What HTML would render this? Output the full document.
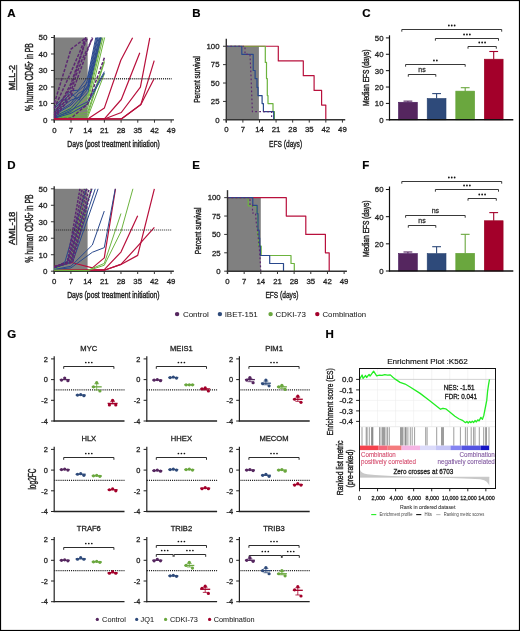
<!DOCTYPE html><html><head><meta charset="utf-8"><title>Figure</title><style>html,body{margin:0;padding:0;background:#fff;overflow:hidden;width:520px;height:631px;}svg{display:block;font-family:"Liberation Sans",sans-serif;will-change:transform;}</style></head><body>
<svg width="520" height="631" viewBox="0 0 520 631">
<rect x="0" y="0" width="520" height="631" fill="#fff" />
<rect x="0.5" y="0.5" width="519" height="630" fill="none" stroke="#000" stroke-width="1.2"/>
<text x="7.3" y="16.9" font-size="11.5" text-anchor="start" fill="#000" font-weight="bold" stroke="#000" stroke-width="0.2" >A</text>
<rect x="54.3" y="37.5" width="33.39" height="82.4" fill="#808080" />
<line x1="54.3" y1="34.9" x2="54.3" y2="122.7" stroke="#333" stroke-width="1.4" />
<line x1="53.6" y1="119.9" x2="173.97" y2="119.9" stroke="#333" stroke-width="1.4" />
<polyline points="54.3,116.6 71,107.38 87.69,95.18 100.57,37.5" fill="none" stroke="#6cb33e" stroke-width="1" stroke-linejoin="round" />
<polyline points="54.3,117.43 71,109.19 87.69,98.48 101.76,37.5" fill="none" stroke="#6cb33e" stroke-width="1" stroke-linejoin="round" />
<polyline points="54.3,118.25 71,111.66 87.69,102.6 102.95,37.5" fill="none" stroke="#6cb33e" stroke-width="1" stroke-linejoin="round" />
<polyline points="54.3,118.58 71,113.31 87.69,108.36 104.62,37.5" fill="none" stroke="#6cb33e" stroke-width="1" stroke-linejoin="round" />
<polyline points="54.3,118.91 71,114.96 87.69,112.15 104.38,60.57" fill="none" stroke="#6cb33e" stroke-width="1" stroke-linejoin="round" />
<polyline points="54.3,118.91 71,115.78 87.69,114.96 104.38,62.22" fill="none" stroke="#6cb33e" stroke-width="1" stroke-linejoin="round" />
<polyline points="54.3,118.91 71,117.1 87.69,117.1 104.38,73.76" fill="none" stroke="#6cb33e" stroke-width="1" stroke-linejoin="round" />
<polyline points="54.3,106.72 71,90.73 78.15,90.24 87.69,77.05 95.8,37.5" fill="none" stroke="#29488c" stroke-width="1" stroke-linejoin="round" />
<polyline points="54.3,108.36 71,93.53 79.34,100.12 87.69,79.52 96.75,37.5" fill="none" stroke="#29488c" stroke-width="1" stroke-linejoin="round" />
<polyline points="54.3,110.84 71,96.83 78.15,91.06 87.69,82.82 97.47,37.5" fill="none" stroke="#29488c" stroke-width="1" stroke-linejoin="round" />
<polyline points="54.3,112.48 71,100.12 80.53,96.83 87.69,85.29 98.18,37.5" fill="none" stroke="#29488c" stroke-width="1" stroke-linejoin="round" />
<polyline points="54.3,114.13 71,103.42 78.15,93.53 87.69,88.59 99.14,37.5" fill="none" stroke="#29488c" stroke-width="1" stroke-linejoin="round" />
<polyline points="54.3,114.96 71,105.07 87.69,86.94 99.85,37.5" fill="none" stroke="#29488c" stroke-width="1" stroke-linejoin="round" />
<polyline points="54.3,116.6 71,108.36 87.69,89.41 100.57,37.5" fill="none" stroke="#29488c" stroke-width="1" stroke-linejoin="round" />
<polyline points="54.3,117.43 71,111.66 87.69,92.71 101.28,37.5" fill="none" stroke="#29488c" stroke-width="1" stroke-linejoin="round" />
<polyline points="54.3,118.25 71,113.31 87.69,103.91 104.38,73.1" fill="none" stroke="#29488c" stroke-width="1" stroke-linejoin="round" />
<polyline points="54.3,118.25 71,110.01 87.69,101.77 104.38,71.61" fill="none" stroke="#29488c" stroke-width="1" stroke-linejoin="round" />
<polyline points="54.3,103.42 71,49.04 86.26,37.5" fill="none" stroke="#5c2872" stroke-width="1.5" stroke-linejoin="round" stroke-dasharray="3.2,1.5"/>
<polyline points="54.3,108.36 71,72.11 79.58,52.33 85.3,38.32" fill="none" stroke="#5c2872" stroke-width="1.5" stroke-linejoin="round" stroke-dasharray="3.2,1.5"/>
<polyline points="54.3,113.31 71,86.94 82.44,51.34 85.78,37.5" fill="none" stroke="#5c2872" stroke-width="1.5" stroke-linejoin="round" stroke-dasharray="3.2,1.5"/>
<polyline points="54.3,116.6 71,91.88 76,75.4 82.44,58.92 92.7,38.16" fill="none" stroke="#5c2872" stroke-width="1.5" stroke-linejoin="round" stroke-dasharray="3.2,1.5"/>
<polyline points="54.3,118.25 71,96.17 82.68,63.87 92.22,37.5" fill="none" stroke="#5c2872" stroke-width="1.5" stroke-linejoin="round" stroke-dasharray="3.2,1.5"/>
<polyline points="54.3,114.96 71,83.64 84.11,45.74 87.69,37.5" fill="none" stroke="#5c2872" stroke-width="1.5" stroke-linejoin="round" stroke-dasharray="3.2,1.5"/>
<polyline points="54.3,118.91 71,118.25 87.69,103.91 104.38,57.77" fill="none" stroke="#5c2872" stroke-width="1.5" stroke-linejoin="round" stroke-dasharray="3.2,1.5"/>
<polyline points="54.3,118.95 87.7,118.95 104.4,107.9 120.8,60.2 132.6,37.8" fill="none" stroke="#b8103c" stroke-width="1.2" stroke-linejoin="round" />
<polyline points="54.3,118.95 104.4,118.95 121.3,99.5 139.8,52.8" fill="none" stroke="#b8103c" stroke-width="1.2" stroke-linejoin="round" />
<polyline points="54.3,118.95 104.4,118.95 121.3,112.5 140.4,87.1 149.8,37.8" fill="none" stroke="#b8103c" stroke-width="1.2" stroke-linejoin="round" />
<polyline points="54.3,118.95 121.3,118.95 140.9,104.4 154.2,78.4" fill="none" stroke="#b8103c" stroke-width="1.2" stroke-linejoin="round" />
<polyline points="54.3,118.95 121.3,118.95 140.9,104.4 154.2,60.6" fill="none" stroke="#b8103c" stroke-width="1.2" stroke-linejoin="round" />
<line x1="54.3" y1="78.7" x2="171.76" y2="78.7" stroke="#3c3c3c" stroke-width="1.5" stroke-dasharray="1.1,0.95"/>
<line x1="51" y1="119.9" x2="54.3" y2="119.9" stroke="#333" stroke-width="1" />
<text x="47.5" y="122.8" font-size="8" text-anchor="end" fill="#222" font-weight="normal" stroke="#222" stroke-width="0.28" >0</text>
<line x1="51" y1="103.42" x2="54.3" y2="103.42" stroke="#333" stroke-width="1" />
<text x="47.5" y="106.32" font-size="8" text-anchor="end" fill="#222" font-weight="normal" stroke="#222" stroke-width="0.28" >10</text>
<line x1="51" y1="86.94" x2="54.3" y2="86.94" stroke="#333" stroke-width="1" />
<text x="47.5" y="89.84" font-size="8" text-anchor="end" fill="#222" font-weight="normal" stroke="#222" stroke-width="0.28" >20</text>
<line x1="51" y1="70.46" x2="54.3" y2="70.46" stroke="#333" stroke-width="1" />
<text x="47.5" y="73.36" font-size="8" text-anchor="end" fill="#222" font-weight="normal" stroke="#222" stroke-width="0.28" >30</text>
<line x1="51" y1="53.98" x2="54.3" y2="53.98" stroke="#333" stroke-width="1" />
<text x="47.5" y="56.88" font-size="8" text-anchor="end" fill="#222" font-weight="normal" stroke="#222" stroke-width="0.28" >40</text>
<line x1="51" y1="37.5" x2="54.3" y2="37.5" stroke="#333" stroke-width="1" />
<text x="47.5" y="40.4" font-size="8" text-anchor="end" fill="#222" font-weight="normal" stroke="#222" stroke-width="0.28" >50</text>
<line x1="54.3" y1="119.9" x2="54.3" y2="122.7" stroke="#333" stroke-width="1" />
<text x="54.3" y="133.1" font-size="7.8" text-anchor="middle" fill="#222" font-weight="normal" stroke="#222" stroke-width="0.28" >0</text>
<line x1="71" y1="119.9" x2="71" y2="122.7" stroke="#333" stroke-width="1" />
<text x="71" y="133.1" font-size="7.8" text-anchor="middle" fill="#222" font-weight="normal" stroke="#222" stroke-width="0.28" >7</text>
<line x1="87.69" y1="119.9" x2="87.69" y2="122.7" stroke="#333" stroke-width="1" />
<text x="87.69" y="133.1" font-size="7.8" text-anchor="middle" fill="#222" font-weight="normal" stroke="#222" stroke-width="0.28" >14</text>
<line x1="104.38" y1="119.9" x2="104.38" y2="122.7" stroke="#333" stroke-width="1" />
<text x="104.38" y="133.1" font-size="7.8" text-anchor="middle" fill="#222" font-weight="normal" stroke="#222" stroke-width="0.28" >21</text>
<line x1="121.08" y1="119.9" x2="121.08" y2="122.7" stroke="#333" stroke-width="1" />
<text x="121.08" y="133.1" font-size="7.8" text-anchor="middle" fill="#222" font-weight="normal" stroke="#222" stroke-width="0.28" >28</text>
<line x1="137.77" y1="119.9" x2="137.77" y2="122.7" stroke="#333" stroke-width="1" />
<text x="137.77" y="133.1" font-size="7.8" text-anchor="middle" fill="#222" font-weight="normal" stroke="#222" stroke-width="0.28" >35</text>
<line x1="154.47" y1="119.9" x2="154.47" y2="122.7" stroke="#333" stroke-width="1" />
<text x="154.47" y="133.1" font-size="7.8" text-anchor="middle" fill="#222" font-weight="normal" stroke="#222" stroke-width="0.28" >42</text>
<line x1="171.16" y1="119.9" x2="171.16" y2="122.7" stroke="#333" stroke-width="1" />
<text x="171.16" y="133.1" font-size="7.8" text-anchor="middle" fill="#222" font-weight="normal" stroke="#222" stroke-width="0.28" >49</text>
<text x="113.5" y="146.6" font-size="9.6" text-anchor="middle" fill="#222" font-weight="normal" stroke="#222" stroke-width="0.4" textLength="92.5" lengthAdjust="spacingAndGlyphs" >Days (post treatment initiation)</text>
<text transform="translate(33,77.1) rotate(-90)" x="0" y="0" font-size="10.2" text-anchor="middle" fill="#222" font-weight="normal" stroke="#222" stroke-width="0.45" textLength="68" lengthAdjust="spacingAndGlyphs">% human CD45<tspan font-size="5" dy="-3">+</tspan><tspan dy="3"> in PB</tspan></text>
<text transform="translate(15,77.6) rotate(-90)" x="0" y="0" font-size="9.6" text-anchor="middle" fill="#222" font-weight="normal" stroke="#222" stroke-width="0.4" textLength="25.4" lengthAdjust="spacingAndGlyphs">MLL-2</text>
<line x1="16.7" y1="64.9" x2="16.7" y2="90.3" stroke="#222" stroke-width="0.9" />
<text x="7.3" y="168.5" font-size="11.5" text-anchor="start" fill="#000" font-weight="bold" stroke="#000" stroke-width="0.2" >D</text>
<rect x="54.2" y="188.8" width="33.39" height="82.4" fill="#808080" />
<line x1="54.2" y1="186.2" x2="54.2" y2="274" stroke="#333" stroke-width="1.4" />
<line x1="53.5" y1="271.2" x2="173.87" y2="271.2" stroke="#333" stroke-width="1.4" />
<polyline points="54.2,266.42 71.61,262.47 92.36,267.9 104.28,257.85 115.49,188.8" fill="none" stroke="#b8103c" stroke-width="1.2" stroke-linejoin="round" />
<polyline points="54.2,270.21 87.59,270.21 104.28,269.55 120.98,252.08 137.68,215.83" fill="none" stroke="#b8103c" stroke-width="1.2" stroke-linejoin="round" />
<polyline points="54.2,270.21 104.28,270.21 120.98,264.44 137.68,255.38 154.37,188.8" fill="none" stroke="#b8103c" stroke-width="1.2" stroke-linejoin="round" />
<polyline points="54.2,270.21 104.28,270.21 120.98,264.44 137.68,246.15 154.37,227.36" fill="none" stroke="#b8103c" stroke-width="1.2" stroke-linejoin="round" />
<polyline points="54.2,268.73 69.82,261.97 85.92,188.8" fill="none" stroke="#6cb33e" stroke-width="1" stroke-linejoin="round" />
<polyline points="54.2,268.73 71.28,261.97 91.17,188.8" fill="none" stroke="#6cb33e" stroke-width="1" stroke-linejoin="round" />
<polyline points="54.2,267.9 64.93,261.97 86.16,188.8" fill="none" stroke="#29488c" stroke-width="1" stroke-linejoin="round" />
<polyline points="54.2,267.9 67.13,261.97 92.12,188.8" fill="none" stroke="#29488c" stroke-width="1" stroke-linejoin="round" />
<polyline points="54.2,267.9 70.66,261.97 95.22,188.8" fill="none" stroke="#29488c" stroke-width="1" stroke-linejoin="round" />
<polyline points="54.2,267.9 72.66,261.97 98.08,188.8" fill="none" stroke="#29488c" stroke-width="1" stroke-linejoin="round" />
<polyline points="54.2,267.08 67.25,261.97 79.96,188.8" fill="none" stroke="#5c2872" stroke-width="1.5" stroke-linejoin="round" stroke-dasharray="2.6,1.3"/>
<polyline points="54.2,267.08 68.34,261.97 82.25,188.8" fill="none" stroke="#5c2872" stroke-width="1.5" stroke-linejoin="round" stroke-dasharray="2.6,1.3"/>
<polyline points="54.2,267.08 69.44,261.97 84.54,188.8" fill="none" stroke="#5c2872" stroke-width="1.5" stroke-linejoin="round" stroke-dasharray="2.6,1.3"/>
<polyline points="54.2,267.08 70.56,261.97 86.83,188.8" fill="none" stroke="#5c2872" stroke-width="1.5" stroke-linejoin="round" stroke-dasharray="2.6,1.3"/>
<polyline points="54.2,267.08 71.66,261.97 89.12,188.8" fill="none" stroke="#5c2872" stroke-width="1.5" stroke-linejoin="round" stroke-dasharray="2.6,1.3"/>
<polyline points="54.2,267.08 72.76,261.97 91.41,188.8" fill="none" stroke="#5c2872" stroke-width="1.5" stroke-linejoin="round" stroke-dasharray="2.6,1.3"/>
<polyline points="54.2,269.55 70.9,266.26 92.36,245 104.28,211.05" fill="none" stroke="#29488c" stroke-width="1" stroke-linejoin="round" />
<polyline points="54.2,269.55 70.9,267.9 92.36,252.25 104.28,247.63 115.26,188.8" fill="none" stroke="#29488c" stroke-width="1" stroke-linejoin="round" />
<polyline points="54.2,270.21 87.59,270.38 104.28,263.45 120.98,213.52" fill="none" stroke="#6cb33e" stroke-width="1" stroke-linejoin="round" />
<polyline points="54.2,270.21 87.59,270.71 104.28,265.27 120.98,231.65 132.91,188.8" fill="none" stroke="#6cb33e" stroke-width="1" stroke-linejoin="round" />
<line x1="54.2" y1="230" x2="171.66" y2="230" stroke="#222" stroke-width="1.1" stroke-dasharray="1,1"/>
<line x1="50.9" y1="271.2" x2="54.2" y2="271.2" stroke="#333" stroke-width="1" />
<text x="47.4" y="274.1" font-size="8" text-anchor="end" fill="#222" font-weight="normal" stroke="#222" stroke-width="0.28" >0</text>
<line x1="50.9" y1="254.72" x2="54.2" y2="254.72" stroke="#333" stroke-width="1" />
<text x="47.4" y="257.62" font-size="8" text-anchor="end" fill="#222" font-weight="normal" stroke="#222" stroke-width="0.28" >10</text>
<line x1="50.9" y1="238.24" x2="54.2" y2="238.24" stroke="#333" stroke-width="1" />
<text x="47.4" y="241.14" font-size="8" text-anchor="end" fill="#222" font-weight="normal" stroke="#222" stroke-width="0.28" >20</text>
<line x1="50.9" y1="221.76" x2="54.2" y2="221.76" stroke="#333" stroke-width="1" />
<text x="47.4" y="224.66" font-size="8" text-anchor="end" fill="#222" font-weight="normal" stroke="#222" stroke-width="0.28" >30</text>
<line x1="50.9" y1="205.28" x2="54.2" y2="205.28" stroke="#333" stroke-width="1" />
<text x="47.4" y="208.18" font-size="8" text-anchor="end" fill="#222" font-weight="normal" stroke="#222" stroke-width="0.28" >40</text>
<line x1="50.9" y1="188.8" x2="54.2" y2="188.8" stroke="#333" stroke-width="1" />
<text x="47.4" y="191.7" font-size="8" text-anchor="end" fill="#222" font-weight="normal" stroke="#222" stroke-width="0.28" >50</text>
<line x1="54.2" y1="271.2" x2="54.2" y2="274" stroke="#333" stroke-width="1" />
<text x="54.2" y="284.4" font-size="7.8" text-anchor="middle" fill="#222" font-weight="normal" stroke="#222" stroke-width="0.28" >0</text>
<line x1="70.9" y1="271.2" x2="70.9" y2="274" stroke="#333" stroke-width="1" />
<text x="70.9" y="284.4" font-size="7.8" text-anchor="middle" fill="#222" font-weight="normal" stroke="#222" stroke-width="0.28" >7</text>
<line x1="87.59" y1="271.2" x2="87.59" y2="274" stroke="#333" stroke-width="1" />
<text x="87.59" y="284.4" font-size="7.8" text-anchor="middle" fill="#222" font-weight="normal" stroke="#222" stroke-width="0.28" >14</text>
<line x1="104.28" y1="271.2" x2="104.28" y2="274" stroke="#333" stroke-width="1" />
<text x="104.28" y="284.4" font-size="7.8" text-anchor="middle" fill="#222" font-weight="normal" stroke="#222" stroke-width="0.28" >21</text>
<line x1="120.98" y1="271.2" x2="120.98" y2="274" stroke="#333" stroke-width="1" />
<text x="120.98" y="284.4" font-size="7.8" text-anchor="middle" fill="#222" font-weight="normal" stroke="#222" stroke-width="0.28" >28</text>
<line x1="137.68" y1="271.2" x2="137.68" y2="274" stroke="#333" stroke-width="1" />
<text x="137.68" y="284.4" font-size="7.8" text-anchor="middle" fill="#222" font-weight="normal" stroke="#222" stroke-width="0.28" >35</text>
<line x1="154.37" y1="271.2" x2="154.37" y2="274" stroke="#333" stroke-width="1" />
<text x="154.37" y="284.4" font-size="7.8" text-anchor="middle" fill="#222" font-weight="normal" stroke="#222" stroke-width="0.28" >42</text>
<line x1="171.06" y1="271.2" x2="171.06" y2="274" stroke="#333" stroke-width="1" />
<text x="171.06" y="284.4" font-size="7.8" text-anchor="middle" fill="#222" font-weight="normal" stroke="#222" stroke-width="0.28" >49</text>
<text x="113.4" y="298" font-size="9.6" text-anchor="middle" fill="#222" font-weight="normal" stroke="#222" stroke-width="0.4" textLength="92.5" lengthAdjust="spacingAndGlyphs" >Days (post treatment initiation)</text>
<text transform="translate(32.9,228.4) rotate(-90)" x="0" y="0" font-size="10.2" text-anchor="middle" fill="#222" font-weight="normal" stroke="#222" stroke-width="0.45" textLength="68" lengthAdjust="spacingAndGlyphs">% human CD45<tspan font-size="5" dy="-3">+</tspan><tspan dy="3"> in PB</tspan></text>
<text transform="translate(15,228.4) rotate(-90)" x="0" y="0" font-size="9.6" text-anchor="middle" fill="#222" font-weight="normal" stroke="#222" stroke-width="0.4" textLength="33.4" lengthAdjust="spacingAndGlyphs">AML-18</text>
<line x1="16.7" y1="211.7" x2="16.7" y2="245.1" stroke="#222" stroke-width="0.9" />
<text x="192.3" y="16.9" font-size="11.5" text-anchor="start" fill="#000" font-weight="bold" stroke="#000" stroke-width="0.2" >B</text>
<rect x="226.3" y="46.25" width="32.6" height="73.55" fill="#808080" />
<polyline points="226.3,46.25 278.3,46.25 278.3,60.96 303.3,60.96 303.3,75.67 314.1,75.67 314.1,90.38 321.6,90.38 321.6,105.09 325.8,105.09 325.8,119.8" fill="none" stroke="#b8103c" stroke-width="1.2" stroke-linejoin="round" />
<polyline points="226.3,46.25 265.3,46.25 265.3,62.43 266.5,62.43 266.5,78.61 267.3,78.61 267.3,95.53 268,95.53 268,103.62 273,103.62 273,111.71 274.4,111.71 274.4,119.8" fill="none" stroke="#6cb33e" stroke-width="1.2" stroke-linejoin="round" />
<polyline points="226.3,46.25 241.8,46.25 241.8,54.34 253.2,54.34 253.2,70.52 255.1,70.52 255.1,78.61 257,78.61 257,87.44 258,87.44 258,95.53 262.1,95.53 262.1,103.62 263.4,103.62 263.4,111.71 273.7,111.71 273.7,119.8" fill="none" stroke="#29488c" stroke-width="1.2" stroke-linejoin="round" />
<polyline points="226.3,46.25 245,46.25 245,54.34 250,54.34 251,75.67 252.4,111.71 271.6,111.71 271.6,119.8" fill="none" stroke="#5c2872" stroke-width="1.2" stroke-linejoin="round" stroke-dasharray="1.8,2.2"/>
<line x1="226.3" y1="38.75" x2="226.3" y2="122.6" stroke="#333" stroke-width="1.4" />
<line x1="225.6" y1="119.8" x2="345.23" y2="119.8" stroke="#333" stroke-width="1.4" />
<line x1="223" y1="119.8" x2="226.3" y2="119.8" stroke="#333" stroke-width="1" />
<text x="219.5" y="122.6" font-size="7.8" text-anchor="end" fill="#222" font-weight="normal" stroke="#222" stroke-width="0.28" >0</text>
<line x1="223" y1="101.41" x2="226.3" y2="101.41" stroke="#333" stroke-width="1" />
<text x="219.5" y="104.21" font-size="7.8" text-anchor="end" fill="#222" font-weight="normal" stroke="#222" stroke-width="0.28" >25</text>
<line x1="223" y1="83.02" x2="226.3" y2="83.02" stroke="#333" stroke-width="1" />
<text x="219.5" y="85.82" font-size="7.8" text-anchor="end" fill="#222" font-weight="normal" stroke="#222" stroke-width="0.28" >50</text>
<line x1="223" y1="64.64" x2="226.3" y2="64.64" stroke="#333" stroke-width="1" />
<text x="219.5" y="67.44" font-size="7.8" text-anchor="end" fill="#222" font-weight="normal" stroke="#222" stroke-width="0.28" >75</text>
<line x1="223" y1="46.25" x2="226.3" y2="46.25" stroke="#333" stroke-width="1" />
<text x="219.5" y="49.05" font-size="7.8" text-anchor="end" fill="#222" font-weight="normal" stroke="#222" stroke-width="0.28" >100</text>
<line x1="226.3" y1="119.8" x2="226.3" y2="122.6" stroke="#333" stroke-width="1" />
<text x="226.3" y="132.4" font-size="7.8" text-anchor="middle" fill="#222" font-weight="normal" stroke="#222" stroke-width="0.28" >0</text>
<line x1="242.89" y1="119.8" x2="242.89" y2="122.6" stroke="#333" stroke-width="1" />
<text x="242.89" y="132.4" font-size="7.8" text-anchor="middle" fill="#222" font-weight="normal" stroke="#222" stroke-width="0.28" >7</text>
<line x1="259.48" y1="119.8" x2="259.48" y2="122.6" stroke="#333" stroke-width="1" />
<text x="259.48" y="132.4" font-size="7.8" text-anchor="middle" fill="#222" font-weight="normal" stroke="#222" stroke-width="0.28" >14</text>
<line x1="276.07" y1="119.8" x2="276.07" y2="122.6" stroke="#333" stroke-width="1" />
<text x="276.07" y="132.4" font-size="7.8" text-anchor="middle" fill="#222" font-weight="normal" stroke="#222" stroke-width="0.28" >21</text>
<line x1="292.66" y1="119.8" x2="292.66" y2="122.6" stroke="#333" stroke-width="1" />
<text x="292.66" y="132.4" font-size="7.8" text-anchor="middle" fill="#222" font-weight="normal" stroke="#222" stroke-width="0.28" >28</text>
<line x1="309.25" y1="119.8" x2="309.25" y2="122.6" stroke="#333" stroke-width="1" />
<text x="309.25" y="132.4" font-size="7.8" text-anchor="middle" fill="#222" font-weight="normal" stroke="#222" stroke-width="0.28" >35</text>
<line x1="325.84" y1="119.8" x2="325.84" y2="122.6" stroke="#333" stroke-width="1" />
<text x="325.84" y="132.4" font-size="7.8" text-anchor="middle" fill="#222" font-weight="normal" stroke="#222" stroke-width="0.28" >42</text>
<line x1="342.43" y1="119.8" x2="342.43" y2="122.6" stroke="#333" stroke-width="1" />
<text x="342.43" y="132.4" font-size="7.8" text-anchor="middle" fill="#222" font-weight="normal" stroke="#222" stroke-width="0.28" >49</text>
<text x="285.6" y="146.7" font-size="9.8" text-anchor="middle" fill="#222" font-weight="normal" stroke="#222" stroke-width="0.4" textLength="33" lengthAdjust="spacingAndGlyphs" >EFS (days)</text>
<text transform="translate(200,79.52) rotate(-90)" x="0" y="0" font-size="9.2" text-anchor="middle" fill="#222" font-weight="normal" stroke="#222" stroke-width="0.4" textLength="46.5" lengthAdjust="spacingAndGlyphs">Percent survival</text>
<text x="192.3" y="168.5" font-size="11.5" text-anchor="start" fill="#000" font-weight="bold" stroke="#000" stroke-width="0.2" >E</text>
<rect x="227.5" y="197.65" width="33.3" height="73.55" fill="#808080" />
<polyline points="227.5,197.65 286.3,197.65 286.3,216.04 305.8,216.04 305.8,234.42 325.4,234.42 325.4,252.81 329.2,252.81 329.2,271.2" fill="none" stroke="#b8103c" stroke-width="1.2" stroke-linejoin="round" />
<polyline points="227.5,197.65 248.2,197.65 248.2,205.8 256.5,205.8 256.5,211.7 257.6,211.7 257.6,235.4 258.6,235.4 258.6,246 261.2,246 261.2,255.5 291,255.5 291,263.5 294.3,263.5 294.3,271.2" fill="none" stroke="#6cb33e" stroke-width="1.2" stroke-linejoin="round" />
<polyline points="227.5,197.65 252.8,197.65 252.8,205.3 257.1,205.3 257.1,213.7 258,213.7 258,230.2 259.1,230.2 259.1,238 259.7,238 259.7,246 260.4,246 260.4,255.5 269.7,255.5 269.7,263.5 283.5,263.5 283.5,271.2" fill="none" stroke="#29488c" stroke-width="1.2" stroke-linejoin="round" />
<polyline points="227.5,197.65 250,197.65 250,205 252.5,205 252.5,213 255.5,213 256.2,222 257.5,230 258.5,240 259.5,250 260.8,271.2" fill="none" stroke="#5c2872" stroke-width="1.2" stroke-linejoin="round" stroke-dasharray="1.8,2.2"/>
<line x1="227.5" y1="190.15" x2="227.5" y2="274" stroke="#333" stroke-width="1.4" />
<line x1="226.8" y1="271.2" x2="346.92" y2="271.2" stroke="#333" stroke-width="1.4" />
<line x1="224.2" y1="271.2" x2="227.5" y2="271.2" stroke="#333" stroke-width="1" />
<text x="220.7" y="274" font-size="7.8" text-anchor="end" fill="#222" font-weight="normal" stroke="#222" stroke-width="0.28" >0</text>
<line x1="224.2" y1="252.81" x2="227.5" y2="252.81" stroke="#333" stroke-width="1" />
<text x="220.7" y="255.61" font-size="7.8" text-anchor="end" fill="#222" font-weight="normal" stroke="#222" stroke-width="0.28" >25</text>
<line x1="224.2" y1="234.42" x2="227.5" y2="234.42" stroke="#333" stroke-width="1" />
<text x="220.7" y="237.22" font-size="7.8" text-anchor="end" fill="#222" font-weight="normal" stroke="#222" stroke-width="0.28" >50</text>
<line x1="224.2" y1="216.04" x2="227.5" y2="216.04" stroke="#333" stroke-width="1" />
<text x="220.7" y="218.84" font-size="7.8" text-anchor="end" fill="#222" font-weight="normal" stroke="#222" stroke-width="0.28" >75</text>
<line x1="224.2" y1="197.65" x2="227.5" y2="197.65" stroke="#333" stroke-width="1" />
<text x="220.7" y="200.45" font-size="7.8" text-anchor="end" fill="#222" font-weight="normal" stroke="#222" stroke-width="0.28" >100</text>
<line x1="227.5" y1="271.2" x2="227.5" y2="274" stroke="#333" stroke-width="1" />
<text x="227.5" y="283.8" font-size="7.8" text-anchor="middle" fill="#222" font-weight="normal" stroke="#222" stroke-width="0.28" >0</text>
<line x1="244.16" y1="271.2" x2="244.16" y2="274" stroke="#333" stroke-width="1" />
<text x="244.16" y="283.8" font-size="7.8" text-anchor="middle" fill="#222" font-weight="normal" stroke="#222" stroke-width="0.28" >7</text>
<line x1="260.82" y1="271.2" x2="260.82" y2="274" stroke="#333" stroke-width="1" />
<text x="260.82" y="283.8" font-size="7.8" text-anchor="middle" fill="#222" font-weight="normal" stroke="#222" stroke-width="0.28" >14</text>
<line x1="277.48" y1="271.2" x2="277.48" y2="274" stroke="#333" stroke-width="1" />
<text x="277.48" y="283.8" font-size="7.8" text-anchor="middle" fill="#222" font-weight="normal" stroke="#222" stroke-width="0.28" >21</text>
<line x1="294.14" y1="271.2" x2="294.14" y2="274" stroke="#333" stroke-width="1" />
<text x="294.14" y="283.8" font-size="7.8" text-anchor="middle" fill="#222" font-weight="normal" stroke="#222" stroke-width="0.28" >28</text>
<line x1="310.8" y1="271.2" x2="310.8" y2="274" stroke="#333" stroke-width="1" />
<text x="310.8" y="283.8" font-size="7.8" text-anchor="middle" fill="#222" font-weight="normal" stroke="#222" stroke-width="0.28" >35</text>
<line x1="327.46" y1="271.2" x2="327.46" y2="274" stroke="#333" stroke-width="1" />
<text x="327.46" y="283.8" font-size="7.8" text-anchor="middle" fill="#222" font-weight="normal" stroke="#222" stroke-width="0.28" >42</text>
<line x1="344.12" y1="271.2" x2="344.12" y2="274" stroke="#333" stroke-width="1" />
<text x="344.12" y="283.8" font-size="7.8" text-anchor="middle" fill="#222" font-weight="normal" stroke="#222" stroke-width="0.28" >49</text>
<text x="281.9" y="298.1" font-size="9.8" text-anchor="middle" fill="#222" font-weight="normal" stroke="#222" stroke-width="0.4" textLength="33" lengthAdjust="spacingAndGlyphs" >EFS (days)</text>
<text transform="translate(201.2,230.92) rotate(-90)" x="0" y="0" font-size="9.2" text-anchor="middle" fill="#222" font-weight="normal" stroke="#222" stroke-width="0.4" textLength="46.5" lengthAdjust="spacingAndGlyphs">Percent survival</text>
<text x="362.3" y="16.9" font-size="11.5" text-anchor="start" fill="#000" font-weight="bold" stroke="#000" stroke-width="0.2" >C</text>
<line x1="407.9" y1="102.27" x2="407.9" y2="101.13" stroke="#55265f" stroke-width="1.1" />
<line x1="403.5" y1="101.13" x2="412.3" y2="101.13" stroke="#55265f" stroke-width="1.1" />
<rect x="398.5" y="102.27" width="18.8" height="17.53" fill="#55265f" stroke="#45175a" stroke-width="0.6"/>
<line x1="436.6" y1="98.51" x2="436.6" y2="93.59" stroke="#2e4a7a" stroke-width="1.1" />
<line x1="432.2" y1="93.59" x2="441" y2="93.59" stroke="#2e4a7a" stroke-width="1.1" />
<rect x="427.2" y="98.51" width="18.8" height="21.29" fill="#2e4a7a" stroke="#25406e" stroke-width="0.6"/>
<line x1="465.2" y1="91.13" x2="465.2" y2="87.7" stroke="#6aa73e" stroke-width="1.1" />
<line x1="460.8" y1="87.7" x2="469.6" y2="87.7" stroke="#6aa73e" stroke-width="1.1" />
<rect x="455.8" y="91.13" width="18.8" height="28.67" fill="#6aa73e" stroke="#5fa030" stroke-width="0.6"/>
<line x1="493.7" y1="59.19" x2="493.7" y2="51.5" stroke="#a3002a" stroke-width="1.1" />
<line x1="489.3" y1="51.5" x2="498.1" y2="51.5" stroke="#a3002a" stroke-width="1.1" />
<rect x="484.3" y="59.19" width="18.8" height="60.61" fill="#a3002a" stroke="#96001f" stroke-width="0.6"/>
<line x1="389.5" y1="35.3" x2="389.5" y2="120.4" stroke="#111" stroke-width="1.2" />
<line x1="388.9" y1="119.8" x2="513.3" y2="119.8" stroke="#111" stroke-width="1.4" />
<line x1="385.9" y1="119.8" x2="389.5" y2="119.8" stroke="#111" stroke-width="1" />
<text x="383.5" y="122.7" font-size="7.8" text-anchor="end" fill="#222" font-weight="normal" stroke="#222" stroke-width="0.28" >0</text>
<line x1="385.9" y1="103.42" x2="389.5" y2="103.42" stroke="#111" stroke-width="1" />
<text x="383.5" y="106.32" font-size="7.8" text-anchor="end" fill="#222" font-weight="normal" stroke="#222" stroke-width="0.28" >10</text>
<line x1="385.9" y1="87.04" x2="389.5" y2="87.04" stroke="#111" stroke-width="1" />
<text x="383.5" y="89.94" font-size="7.8" text-anchor="end" fill="#222" font-weight="normal" stroke="#222" stroke-width="0.28" >20</text>
<line x1="385.9" y1="70.66" x2="389.5" y2="70.66" stroke="#111" stroke-width="1" />
<text x="383.5" y="73.56" font-size="7.8" text-anchor="end" fill="#222" font-weight="normal" stroke="#222" stroke-width="0.28" >30</text>
<line x1="385.9" y1="54.28" x2="389.5" y2="54.28" stroke="#111" stroke-width="1" />
<text x="383.5" y="57.18" font-size="7.8" text-anchor="end" fill="#222" font-weight="normal" stroke="#222" stroke-width="0.28" >40</text>
<line x1="385.9" y1="37.9" x2="389.5" y2="37.9" stroke="#111" stroke-width="1" />
<text x="383.5" y="40.8" font-size="7.8" text-anchor="end" fill="#222" font-weight="normal" stroke="#222" stroke-width="0.28" >50</text>
<polyline points="401.8,31.7 401.8,29.5 501.7,29.5 501.7,31.7" fill="none" stroke="#222" stroke-width="0.9" stroke-linejoin="round" />
<circle cx="448.85" cy="25.5" r="0.9" fill="#111"/>
<circle cx="451.75" cy="25.5" r="0.9" fill="#111"/>
<circle cx="454.65" cy="25.5" r="0.9" fill="#111"/>
<polyline points="435.4,40.7 435.4,38.5 498.5,38.5 498.5,40.7" fill="none" stroke="#222" stroke-width="0.9" stroke-linejoin="round" />
<circle cx="464.05" cy="34.5" r="0.9" fill="#111"/>
<circle cx="466.95" cy="34.5" r="0.9" fill="#111"/>
<circle cx="469.85" cy="34.5" r="0.9" fill="#111"/>
<polyline points="468,48.7 468,46.5 496.3,46.5 496.3,48.7" fill="none" stroke="#222" stroke-width="0.9" stroke-linejoin="round" />
<circle cx="479.25" cy="42.5" r="0.9" fill="#111"/>
<circle cx="482.15" cy="42.5" r="0.9" fill="#111"/>
<circle cx="485.05" cy="42.5" r="0.9" fill="#111"/>
<polyline points="405.6,66.7 405.6,64.5 465.2,64.5 465.2,66.7" fill="none" stroke="#222" stroke-width="0.9" stroke-linejoin="round" />
<circle cx="433.95" cy="60.5" r="0.9" fill="#111"/>
<circle cx="436.85" cy="60.5" r="0.9" fill="#111"/>
<polyline points="408.3,76.7 408.3,74.5 435.8,74.5 435.8,76.7" fill="none" stroke="#222" stroke-width="0.9" stroke-linejoin="round" />
<text x="422.05" y="72.2" font-size="7" text-anchor="middle" fill="#333" font-weight="normal" stroke="#333" stroke-width="0.28" >ns</text>
<text transform="translate(369.3,77.8) rotate(-90)" x="0" y="0" font-size="8.4" text-anchor="middle" fill="#222" font-weight="normal" stroke="#222" stroke-width="0.4" textLength="56.6" lengthAdjust="spacingAndGlyphs">Median EFS (days)</text>
<text x="362.3" y="168.5" font-size="11.5" text-anchor="start" fill="#000" font-weight="bold" stroke="#000" stroke-width="0.2" >F</text>
<line x1="407.9" y1="253.62" x2="407.9" y2="251.99" stroke="#55265f" stroke-width="1.1" />
<line x1="403.5" y1="251.99" x2="412.3" y2="251.99" stroke="#55265f" stroke-width="1.1" />
<rect x="398.5" y="253.62" width="18.8" height="17.38" fill="#55265f" stroke="#45175a" stroke-width="0.6"/>
<line x1="436.6" y1="253.62" x2="436.6" y2="246.69" stroke="#2e4a7a" stroke-width="1.1" />
<line x1="432.2" y1="246.69" x2="441" y2="246.69" stroke="#2e4a7a" stroke-width="1.1" />
<rect x="427.2" y="253.62" width="18.8" height="17.38" fill="#2e4a7a" stroke="#25406e" stroke-width="0.6"/>
<line x1="465.2" y1="253.35" x2="465.2" y2="234.33" stroke="#6aa73e" stroke-width="1.1" />
<line x1="460.8" y1="234.33" x2="469.6" y2="234.33" stroke="#6aa73e" stroke-width="1.1" />
<rect x="455.8" y="253.35" width="18.8" height="17.65" fill="#6aa73e" stroke="#5fa030" stroke-width="0.6"/>
<line x1="493.7" y1="220.75" x2="493.7" y2="212.61" stroke="#a3002a" stroke-width="1.1" />
<line x1="489.3" y1="212.61" x2="498.1" y2="212.61" stroke="#a3002a" stroke-width="1.1" />
<rect x="484.3" y="220.75" width="18.8" height="50.25" fill="#a3002a" stroke="#96001f" stroke-width="0.6"/>
<line x1="389.5" y1="186.5" x2="389.5" y2="271.6" stroke="#111" stroke-width="1.2" />
<line x1="388.9" y1="271" x2="513.3" y2="271" stroke="#111" stroke-width="1.4" />
<line x1="385.9" y1="271" x2="389.5" y2="271" stroke="#111" stroke-width="1" />
<text x="383.5" y="273.9" font-size="7.8" text-anchor="end" fill="#222" font-weight="normal" stroke="#222" stroke-width="0.28" >0</text>
<line x1="385.9" y1="243.84" x2="389.5" y2="243.84" stroke="#111" stroke-width="1" />
<text x="383.5" y="246.74" font-size="7.8" text-anchor="end" fill="#222" font-weight="normal" stroke="#222" stroke-width="0.28" >20</text>
<line x1="385.9" y1="216.68" x2="389.5" y2="216.68" stroke="#111" stroke-width="1" />
<text x="383.5" y="219.58" font-size="7.8" text-anchor="end" fill="#222" font-weight="normal" stroke="#222" stroke-width="0.28" >40</text>
<line x1="385.9" y1="189.52" x2="389.5" y2="189.52" stroke="#111" stroke-width="1" />
<text x="383.5" y="192.42" font-size="7.8" text-anchor="end" fill="#222" font-weight="normal" stroke="#222" stroke-width="0.28" >60</text>
<polyline points="401.8,183.7 401.8,181.5 501.7,181.5 501.7,183.7" fill="none" stroke="#222" stroke-width="0.9" stroke-linejoin="round" />
<circle cx="448.85" cy="177.5" r="0.9" fill="#111"/>
<circle cx="451.75" cy="177.5" r="0.9" fill="#111"/>
<circle cx="454.65" cy="177.5" r="0.9" fill="#111"/>
<polyline points="435.4,191.7 435.4,189.5 498.5,189.5 498.5,191.7" fill="none" stroke="#222" stroke-width="0.9" stroke-linejoin="round" />
<circle cx="464.05" cy="185.5" r="0.9" fill="#111"/>
<circle cx="466.95" cy="185.5" r="0.9" fill="#111"/>
<circle cx="469.85" cy="185.5" r="0.9" fill="#111"/>
<polyline points="468,200.7 468,198.5 496.3,198.5 496.3,200.7" fill="none" stroke="#222" stroke-width="0.9" stroke-linejoin="round" />
<circle cx="479.25" cy="194.5" r="0.9" fill="#111"/>
<circle cx="482.15" cy="194.5" r="0.9" fill="#111"/>
<circle cx="485.05" cy="194.5" r="0.9" fill="#111"/>
<polyline points="405.6,217.7 405.6,215.5 465.2,215.5 465.2,217.7" fill="none" stroke="#222" stroke-width="0.9" stroke-linejoin="round" />
<text x="435.4" y="213.2" font-size="7" text-anchor="middle" fill="#333" font-weight="normal" stroke="#333" stroke-width="0.28" >ns</text>
<polyline points="408.3,227.7 408.3,225.5 435.8,225.5 435.8,227.7" fill="none" stroke="#222" stroke-width="0.9" stroke-linejoin="round" />
<text x="422.05" y="223.2" font-size="7" text-anchor="middle" fill="#333" font-weight="normal" stroke="#333" stroke-width="0.28" >ns</text>
<text transform="translate(369.3,228.8) rotate(-90)" x="0" y="0" font-size="8.4" text-anchor="middle" fill="#222" font-weight="normal" stroke="#222" stroke-width="0.4" textLength="56.6" lengthAdjust="spacingAndGlyphs">Median EFS (days)</text>
<circle cx="177.1" cy="314.1" r="2.2" fill="#55265f"/>
<text x="182.9" y="316.98" font-size="8" text-anchor="start" fill="#222" font-weight="normal" stroke="#222" stroke-width="0.05" textLength="25.8" lengthAdjust="spacingAndGlyphs" >Control</text>
<circle cx="219.9" cy="314.1" r="2.2" fill="#2e4a7a"/>
<text x="225.1" y="316.98" font-size="8" text-anchor="start" fill="#222" font-weight="normal" stroke="#222" stroke-width="0.05" textLength="32.6" lengthAdjust="spacingAndGlyphs" >iBET-151</text>
<circle cx="270.6" cy="314.1" r="2.2" fill="#6aa73e"/>
<text x="275.5" y="316.98" font-size="8" text-anchor="start" fill="#222" font-weight="normal" stroke="#222" stroke-width="0.05" textLength="30.3" lengthAdjust="spacingAndGlyphs" >CDKI-73</text>
<circle cx="317.3" cy="314.1" r="2.2" fill="#a3002a"/>
<text x="322.5" y="316.98" font-size="8" text-anchor="start" fill="#222" font-weight="normal" stroke="#222" stroke-width="0.05" textLength="43.6" lengthAdjust="spacingAndGlyphs" >Combination</text>
<text x="7.2" y="338.3" font-size="11.5" text-anchor="start" fill="#000" font-weight="bold" stroke="#000" stroke-width="0.2" >G</text>
<text x="88.8" y="350.6" font-size="7.6" text-anchor="middle" fill="#222" font-weight="normal" stroke="#222" stroke-width="0.28" >MYC</text>
<line x1="54.2" y1="389.95" x2="124.5" y2="389.95" stroke="#222" stroke-width="1.2" stroke-dasharray="1.1,1"/>
<line x1="54.2" y1="356.3" x2="54.2" y2="421.6" stroke="#222" stroke-width="1.2" />
<line x1="53.6" y1="421" x2="124.5" y2="421" stroke="#222" stroke-width="1.3" />
<line x1="51" y1="358.9" x2="54.2" y2="358.9" stroke="#222" stroke-width="1" />
<text x="47.8" y="361.6" font-size="7.4" text-anchor="end" fill="#222" font-weight="normal" stroke="#222" stroke-width="0.28" >2</text>
<line x1="51" y1="379.6" x2="54.2" y2="379.6" stroke="#222" stroke-width="1" />
<text x="47.8" y="382.3" font-size="7.4" text-anchor="end" fill="#222" font-weight="normal" stroke="#222" stroke-width="0.28" >0</text>
<line x1="51" y1="400.3" x2="54.2" y2="400.3" stroke="#222" stroke-width="1" />
<text x="47.8" y="403" font-size="7.4" text-anchor="end" fill="#222" font-weight="normal" stroke="#222" stroke-width="0.28" >-2</text>
<line x1="51" y1="421" x2="54.2" y2="421" stroke="#222" stroke-width="1" />
<text x="47.8" y="423.7" font-size="7.4" text-anchor="end" fill="#222" font-weight="normal" stroke="#222" stroke-width="0.28" >-4</text>
<polyline points="63.7,368.8 63.7,366.5 113.9,366.5 113.9,368.8" fill="none" stroke="#222" stroke-width="0.95" stroke-linejoin="round" />
<circle cx="85.8" cy="362.5" r="0.85" fill="#111"/>
<circle cx="88.8" cy="362.5" r="0.85" fill="#111"/>
<circle cx="91.8" cy="362.5" r="0.85" fill="#111"/>
<line x1="59.7" y1="379.6" x2="69.7" y2="379.6" stroke="#55265f" stroke-width="1.3" />
<circle cx="64.7" cy="378.05" r="1.6" fill="#55265f"/>
<circle cx="61.5" cy="380.12" r="1.6" fill="#55265f"/>
<circle cx="67.9" cy="380.64" r="1.6" fill="#55265f"/>
<line x1="75.7" y1="395.12" x2="85.7" y2="395.12" stroke="#2e4a7a" stroke-width="1.3" />
<circle cx="80.7" cy="394.61" r="1.6" fill="#2e4a7a"/>
<circle cx="77.5" cy="395.12" r="1.6" fill="#2e4a7a"/>
<circle cx="83.9" cy="395.64" r="1.6" fill="#2e4a7a"/>
<line x1="96.7" y1="383.74" x2="96.7" y2="389.95" stroke="#6aa73e" stroke-width="0.8" />
<line x1="94.3" y1="383.74" x2="99.1" y2="383.74" stroke="#6aa73e" stroke-width="0.8" />
<line x1="94.3" y1="389.95" x2="99.1" y2="389.95" stroke="#6aa73e" stroke-width="0.8" />
<line x1="91.7" y1="386.85" x2="101.7" y2="386.85" stroke="#6aa73e" stroke-width="1.3" />
<circle cx="96.7" cy="382.71" r="1.6" fill="#6aa73e"/>
<circle cx="93.5" cy="386.85" r="1.6" fill="#6aa73e"/>
<circle cx="99.9" cy="390.99" r="1.6" fill="#6aa73e"/>
<line x1="112.6" y1="401.34" x2="112.6" y2="403.92" stroke="#a3002a" stroke-width="0.8" />
<line x1="110.2" y1="401.34" x2="115" y2="401.34" stroke="#a3002a" stroke-width="0.8" />
<line x1="110.2" y1="403.92" x2="115" y2="403.92" stroke="#a3002a" stroke-width="0.8" />
<line x1="107.6" y1="403.41" x2="117.6" y2="403.41" stroke="#a3002a" stroke-width="1.3" />
<circle cx="112.6" cy="400.3" r="1.6" fill="#a3002a"/>
<circle cx="109.4" cy="404.96" r="1.6" fill="#a3002a"/>
<circle cx="115.8" cy="404.96" r="1.6" fill="#a3002a"/>
<text x="181.4" y="350.6" font-size="7.6" text-anchor="middle" fill="#222" font-weight="normal" stroke="#222" stroke-width="0.28" >MEIS1</text>
<line x1="146.8" y1="389.95" x2="217.1" y2="389.95" stroke="#222" stroke-width="1.2" stroke-dasharray="1.1,1"/>
<line x1="146.8" y1="356.3" x2="146.8" y2="421.6" stroke="#222" stroke-width="1.2" />
<line x1="146.2" y1="421" x2="217.1" y2="421" stroke="#222" stroke-width="1.3" />
<line x1="143.6" y1="358.9" x2="146.8" y2="358.9" stroke="#222" stroke-width="1" />
<text x="140.4" y="361.6" font-size="7.4" text-anchor="end" fill="#222" font-weight="normal" stroke="#222" stroke-width="0.28" >2</text>
<line x1="143.6" y1="379.6" x2="146.8" y2="379.6" stroke="#222" stroke-width="1" />
<text x="140.4" y="382.3" font-size="7.4" text-anchor="end" fill="#222" font-weight="normal" stroke="#222" stroke-width="0.28" >0</text>
<line x1="143.6" y1="400.3" x2="146.8" y2="400.3" stroke="#222" stroke-width="1" />
<text x="140.4" y="403" font-size="7.4" text-anchor="end" fill="#222" font-weight="normal" stroke="#222" stroke-width="0.28" >-2</text>
<line x1="143.6" y1="421" x2="146.8" y2="421" stroke="#222" stroke-width="1" />
<text x="140.4" y="423.7" font-size="7.4" text-anchor="end" fill="#222" font-weight="normal" stroke="#222" stroke-width="0.28" >-4</text>
<polyline points="156.3,368.8 156.3,366.5 206.5,366.5 206.5,368.8" fill="none" stroke="#222" stroke-width="0.95" stroke-linejoin="round" />
<circle cx="178.4" cy="362.5" r="0.85" fill="#111"/>
<circle cx="181.4" cy="362.5" r="0.85" fill="#111"/>
<circle cx="184.4" cy="362.5" r="0.85" fill="#111"/>
<line x1="152.3" y1="380.12" x2="162.3" y2="380.12" stroke="#55265f" stroke-width="1.3" />
<circle cx="157.3" cy="379.6" r="1.6" fill="#55265f"/>
<circle cx="154.1" cy="380.12" r="1.6" fill="#55265f"/>
<circle cx="160.5" cy="380.64" r="1.6" fill="#55265f"/>
<line x1="168.3" y1="377.53" x2="178.3" y2="377.53" stroke="#2e4a7a" stroke-width="1.3" />
<circle cx="173.3" cy="377.01" r="1.6" fill="#2e4a7a"/>
<circle cx="170.1" cy="377.53" r="1.6" fill="#2e4a7a"/>
<circle cx="176.5" cy="378.05" r="1.6" fill="#2e4a7a"/>
<line x1="184.3" y1="384.78" x2="194.3" y2="384.78" stroke="#6aa73e" stroke-width="1.3" />
<circle cx="189.3" cy="384.78" r="1.6" fill="#6aa73e"/>
<circle cx="186.1" cy="384.78" r="1.6" fill="#6aa73e"/>
<circle cx="192.5" cy="384.78" r="1.6" fill="#6aa73e"/>
<line x1="205.2" y1="388.92" x2="205.2" y2="389.95" stroke="#a3002a" stroke-width="0.8" />
<line x1="202.8" y1="388.92" x2="207.6" y2="388.92" stroke="#a3002a" stroke-width="0.8" />
<line x1="202.8" y1="389.95" x2="207.6" y2="389.95" stroke="#a3002a" stroke-width="0.8" />
<line x1="200.2" y1="388.92" x2="210.2" y2="388.92" stroke="#a3002a" stroke-width="1.3" />
<circle cx="205.2" cy="387.88" r="1.6" fill="#a3002a"/>
<circle cx="202" cy="388.92" r="1.6" fill="#a3002a"/>
<circle cx="208.4" cy="390.99" r="1.6" fill="#a3002a"/>
<text x="274" y="350.6" font-size="7.6" text-anchor="middle" fill="#222" font-weight="normal" stroke="#222" stroke-width="0.28" >PIM1</text>
<line x1="239.4" y1="389.95" x2="309.7" y2="389.95" stroke="#222" stroke-width="1.2" stroke-dasharray="1.1,1"/>
<line x1="239.4" y1="356.3" x2="239.4" y2="421.6" stroke="#222" stroke-width="1.2" />
<line x1="238.8" y1="421" x2="309.7" y2="421" stroke="#222" stroke-width="1.3" />
<line x1="236.2" y1="358.9" x2="239.4" y2="358.9" stroke="#222" stroke-width="1" />
<text x="233" y="361.6" font-size="7.4" text-anchor="end" fill="#222" font-weight="normal" stroke="#222" stroke-width="0.28" >2</text>
<line x1="236.2" y1="379.6" x2="239.4" y2="379.6" stroke="#222" stroke-width="1" />
<text x="233" y="382.3" font-size="7.4" text-anchor="end" fill="#222" font-weight="normal" stroke="#222" stroke-width="0.28" >0</text>
<line x1="236.2" y1="400.3" x2="239.4" y2="400.3" stroke="#222" stroke-width="1" />
<text x="233" y="403" font-size="7.4" text-anchor="end" fill="#222" font-weight="normal" stroke="#222" stroke-width="0.28" >-2</text>
<line x1="236.2" y1="421" x2="239.4" y2="421" stroke="#222" stroke-width="1" />
<text x="233" y="423.7" font-size="7.4" text-anchor="end" fill="#222" font-weight="normal" stroke="#222" stroke-width="0.28" >-4</text>
<polyline points="248.9,368.8 248.9,366.5 299.1,366.5 299.1,368.8" fill="none" stroke="#222" stroke-width="0.95" stroke-linejoin="round" />
<circle cx="271" cy="362.5" r="0.85" fill="#111"/>
<circle cx="274" cy="362.5" r="0.85" fill="#111"/>
<circle cx="277" cy="362.5" r="0.85" fill="#111"/>
<line x1="249.9" y1="378.56" x2="249.9" y2="381.67" stroke="#55265f" stroke-width="0.8" />
<line x1="247.5" y1="378.56" x2="252.3" y2="378.56" stroke="#55265f" stroke-width="0.8" />
<line x1="247.5" y1="381.67" x2="252.3" y2="381.67" stroke="#55265f" stroke-width="0.8" />
<line x1="244.9" y1="379.6" x2="254.9" y2="379.6" stroke="#55265f" stroke-width="1.3" />
<circle cx="249.9" cy="377.53" r="1.6" fill="#55265f"/>
<circle cx="246.7" cy="380.12" r="1.6" fill="#55265f"/>
<circle cx="253.1" cy="382.71" r="1.6" fill="#55265f"/>
<line x1="265.9" y1="381.15" x2="265.9" y2="384.78" stroke="#2e4a7a" stroke-width="0.8" />
<line x1="263.5" y1="381.15" x2="268.3" y2="381.15" stroke="#2e4a7a" stroke-width="0.8" />
<line x1="263.5" y1="384.78" x2="268.3" y2="384.78" stroke="#2e4a7a" stroke-width="0.8" />
<line x1="260.9" y1="383.22" x2="270.9" y2="383.22" stroke="#2e4a7a" stroke-width="1.3" />
<circle cx="265.9" cy="380.12" r="1.6" fill="#2e4a7a"/>
<circle cx="262.7" cy="383.74" r="1.6" fill="#2e4a7a"/>
<circle cx="269.1" cy="385.81" r="1.6" fill="#2e4a7a"/>
<line x1="281.9" y1="386.33" x2="281.9" y2="388.4" stroke="#6aa73e" stroke-width="0.8" />
<line x1="279.5" y1="386.33" x2="284.3" y2="386.33" stroke="#6aa73e" stroke-width="0.8" />
<line x1="279.5" y1="388.4" x2="284.3" y2="388.4" stroke="#6aa73e" stroke-width="0.8" />
<line x1="276.9" y1="386.85" x2="286.9" y2="386.85" stroke="#6aa73e" stroke-width="1.3" />
<circle cx="281.9" cy="385.29" r="1.6" fill="#6aa73e"/>
<circle cx="278.7" cy="386.85" r="1.6" fill="#6aa73e"/>
<circle cx="285.1" cy="389.43" r="1.6" fill="#6aa73e"/>
<line x1="297.8" y1="397.2" x2="297.8" y2="401.34" stroke="#a3002a" stroke-width="0.8" />
<line x1="295.4" y1="397.2" x2="300.2" y2="397.2" stroke="#a3002a" stroke-width="0.8" />
<line x1="295.4" y1="401.34" x2="300.2" y2="401.34" stroke="#a3002a" stroke-width="0.8" />
<line x1="292.8" y1="399.27" x2="302.8" y2="399.27" stroke="#a3002a" stroke-width="1.3" />
<circle cx="297.8" cy="396.16" r="1.6" fill="#a3002a"/>
<circle cx="294.6" cy="399.27" r="1.6" fill="#a3002a"/>
<circle cx="301" cy="402.37" r="1.6" fill="#a3002a"/>
<text x="88.8" y="441.1" font-size="7.6" text-anchor="middle" fill="#222" font-weight="normal" stroke="#222" stroke-width="0.28" >HLX</text>
<line x1="54.2" y1="480.45" x2="124.5" y2="480.45" stroke="#222" stroke-width="1.2" stroke-dasharray="1.1,1"/>
<line x1="54.2" y1="446.8" x2="54.2" y2="512.1" stroke="#222" stroke-width="1.2" />
<line x1="53.6" y1="511.5" x2="124.5" y2="511.5" stroke="#222" stroke-width="1.3" />
<line x1="51" y1="449.4" x2="54.2" y2="449.4" stroke="#222" stroke-width="1" />
<text x="47.8" y="452.1" font-size="7.4" text-anchor="end" fill="#222" font-weight="normal" stroke="#222" stroke-width="0.28" >2</text>
<line x1="51" y1="470.1" x2="54.2" y2="470.1" stroke="#222" stroke-width="1" />
<text x="47.8" y="472.8" font-size="7.4" text-anchor="end" fill="#222" font-weight="normal" stroke="#222" stroke-width="0.28" >0</text>
<line x1="51" y1="490.8" x2="54.2" y2="490.8" stroke="#222" stroke-width="1" />
<text x="47.8" y="493.5" font-size="7.4" text-anchor="end" fill="#222" font-weight="normal" stroke="#222" stroke-width="0.28" >-2</text>
<line x1="51" y1="511.5" x2="54.2" y2="511.5" stroke="#222" stroke-width="1" />
<text x="47.8" y="514.2" font-size="7.4" text-anchor="end" fill="#222" font-weight="normal" stroke="#222" stroke-width="0.28" >-4</text>
<polyline points="63.7,459.8 63.7,457.5 113.9,457.5 113.9,459.8" fill="none" stroke="#222" stroke-width="0.95" stroke-linejoin="round" />
<circle cx="85.8" cy="453.5" r="0.85" fill="#111"/>
<circle cx="88.8" cy="453.5" r="0.85" fill="#111"/>
<circle cx="91.8" cy="453.5" r="0.85" fill="#111"/>
<line x1="59.7" y1="469.58" x2="69.7" y2="469.58" stroke="#55265f" stroke-width="1.3" />
<circle cx="64.7" cy="469.06" r="1.6" fill="#55265f"/>
<circle cx="61.5" cy="469.58" r="1.6" fill="#55265f"/>
<circle cx="67.9" cy="470.1" r="1.6" fill="#55265f"/>
<line x1="75.7" y1="474.24" x2="85.7" y2="474.24" stroke="#2e4a7a" stroke-width="1.3" />
<circle cx="80.7" cy="473.72" r="1.6" fill="#2e4a7a"/>
<circle cx="77.5" cy="474.24" r="1.6" fill="#2e4a7a"/>
<circle cx="83.9" cy="475.28" r="1.6" fill="#2e4a7a"/>
<line x1="91.7" y1="475.79" x2="101.7" y2="475.79" stroke="#6aa73e" stroke-width="1.3" />
<circle cx="96.7" cy="475.28" r="1.6" fill="#6aa73e"/>
<circle cx="93.5" cy="475.79" r="1.6" fill="#6aa73e"/>
<circle cx="99.9" cy="476.31" r="1.6" fill="#6aa73e"/>
<line x1="107.6" y1="489.77" x2="117.6" y2="489.77" stroke="#a3002a" stroke-width="1.3" />
<circle cx="112.6" cy="488.73" r="1.6" fill="#a3002a"/>
<circle cx="109.4" cy="489.77" r="1.6" fill="#a3002a"/>
<circle cx="115.8" cy="490.8" r="1.6" fill="#a3002a"/>
<text x="181.4" y="441.1" font-size="7.6" text-anchor="middle" fill="#222" font-weight="normal" stroke="#222" stroke-width="0.28" >HHEX</text>
<line x1="146.8" y1="480.45" x2="217.1" y2="480.45" stroke="#222" stroke-width="1.2" stroke-dasharray="1.1,1"/>
<line x1="146.8" y1="446.8" x2="146.8" y2="512.1" stroke="#222" stroke-width="1.2" />
<line x1="146.2" y1="511.5" x2="217.1" y2="511.5" stroke="#222" stroke-width="1.3" />
<line x1="143.6" y1="449.4" x2="146.8" y2="449.4" stroke="#222" stroke-width="1" />
<text x="140.4" y="452.1" font-size="7.4" text-anchor="end" fill="#222" font-weight="normal" stroke="#222" stroke-width="0.28" >2</text>
<line x1="143.6" y1="470.1" x2="146.8" y2="470.1" stroke="#222" stroke-width="1" />
<text x="140.4" y="472.8" font-size="7.4" text-anchor="end" fill="#222" font-weight="normal" stroke="#222" stroke-width="0.28" >0</text>
<line x1="143.6" y1="490.8" x2="146.8" y2="490.8" stroke="#222" stroke-width="1" />
<text x="140.4" y="493.5" font-size="7.4" text-anchor="end" fill="#222" font-weight="normal" stroke="#222" stroke-width="0.28" >-2</text>
<line x1="143.6" y1="511.5" x2="146.8" y2="511.5" stroke="#222" stroke-width="1" />
<text x="140.4" y="514.2" font-size="7.4" text-anchor="end" fill="#222" font-weight="normal" stroke="#222" stroke-width="0.28" >-4</text>
<polyline points="156.3,459.8 156.3,457.5 206.5,457.5 206.5,459.8" fill="none" stroke="#222" stroke-width="0.95" stroke-linejoin="round" />
<circle cx="178.4" cy="453.5" r="0.85" fill="#111"/>
<circle cx="181.4" cy="453.5" r="0.85" fill="#111"/>
<circle cx="184.4" cy="453.5" r="0.85" fill="#111"/>
<line x1="152.3" y1="470.62" x2="162.3" y2="470.62" stroke="#55265f" stroke-width="1.3" />
<circle cx="157.3" cy="470.1" r="1.6" fill="#55265f"/>
<circle cx="154.1" cy="470.62" r="1.6" fill="#55265f"/>
<circle cx="160.5" cy="471.14" r="1.6" fill="#55265f"/>
<line x1="168.3" y1="469.58" x2="178.3" y2="469.58" stroke="#2e4a7a" stroke-width="1.3" />
<circle cx="173.3" cy="469.06" r="1.6" fill="#2e4a7a"/>
<circle cx="170.1" cy="469.58" r="1.6" fill="#2e4a7a"/>
<circle cx="176.5" cy="470.1" r="1.6" fill="#2e4a7a"/>
<line x1="184.3" y1="469.58" x2="194.3" y2="469.58" stroke="#6aa73e" stroke-width="1.3" />
<circle cx="189.3" cy="469.06" r="1.6" fill="#6aa73e"/>
<circle cx="186.1" cy="469.58" r="1.6" fill="#6aa73e"/>
<circle cx="192.5" cy="470.1" r="1.6" fill="#6aa73e"/>
<line x1="200.2" y1="488.21" x2="210.2" y2="488.21" stroke="#a3002a" stroke-width="1.3" />
<circle cx="205.2" cy="487.7" r="1.6" fill="#a3002a"/>
<circle cx="202" cy="488.73" r="1.6" fill="#a3002a"/>
<circle cx="208.4" cy="488.73" r="1.6" fill="#a3002a"/>
<text x="274" y="441.1" font-size="7.6" text-anchor="middle" fill="#222" font-weight="normal" stroke="#222" stroke-width="0.28" >MECOM</text>
<line x1="239.4" y1="480.45" x2="309.7" y2="480.45" stroke="#222" stroke-width="1.2" stroke-dasharray="1.1,1"/>
<line x1="239.4" y1="446.8" x2="239.4" y2="512.1" stroke="#222" stroke-width="1.2" />
<line x1="238.8" y1="511.5" x2="309.7" y2="511.5" stroke="#222" stroke-width="1.3" />
<line x1="236.2" y1="449.4" x2="239.4" y2="449.4" stroke="#222" stroke-width="1" />
<text x="233" y="452.1" font-size="7.4" text-anchor="end" fill="#222" font-weight="normal" stroke="#222" stroke-width="0.28" >2</text>
<line x1="236.2" y1="470.1" x2="239.4" y2="470.1" stroke="#222" stroke-width="1" />
<text x="233" y="472.8" font-size="7.4" text-anchor="end" fill="#222" font-weight="normal" stroke="#222" stroke-width="0.28" >0</text>
<line x1="236.2" y1="490.8" x2="239.4" y2="490.8" stroke="#222" stroke-width="1" />
<text x="233" y="493.5" font-size="7.4" text-anchor="end" fill="#222" font-weight="normal" stroke="#222" stroke-width="0.28" >-2</text>
<line x1="236.2" y1="511.5" x2="239.4" y2="511.5" stroke="#222" stroke-width="1" />
<text x="233" y="514.2" font-size="7.4" text-anchor="end" fill="#222" font-weight="normal" stroke="#222" stroke-width="0.28" >-4</text>
<polyline points="248.9,459.8 248.9,457.5 299.1,457.5 299.1,459.8" fill="none" stroke="#222" stroke-width="0.95" stroke-linejoin="round" />
<circle cx="271" cy="453.5" r="0.85" fill="#111"/>
<circle cx="274" cy="453.5" r="0.85" fill="#111"/>
<circle cx="277" cy="453.5" r="0.85" fill="#111"/>
<line x1="244.9" y1="470.1" x2="254.9" y2="470.1" stroke="#55265f" stroke-width="1.3" />
<circle cx="249.9" cy="469.58" r="1.6" fill="#55265f"/>
<circle cx="246.7" cy="470.1" r="1.6" fill="#55265f"/>
<circle cx="253.1" cy="470.62" r="1.6" fill="#55265f"/>
<line x1="260.9" y1="475.28" x2="270.9" y2="475.28" stroke="#2e4a7a" stroke-width="1.3" />
<circle cx="265.9" cy="474.24" r="1.6" fill="#2e4a7a"/>
<circle cx="262.7" cy="475.28" r="1.6" fill="#2e4a7a"/>
<circle cx="269.1" cy="476.31" r="1.6" fill="#2e4a7a"/>
<line x1="276.9" y1="470.1" x2="286.9" y2="470.1" stroke="#6aa73e" stroke-width="1.3" />
<circle cx="281.9" cy="469.58" r="1.6" fill="#6aa73e"/>
<circle cx="278.7" cy="470.1" r="1.6" fill="#6aa73e"/>
<circle cx="285.1" cy="471.14" r="1.6" fill="#6aa73e"/>
<line x1="292.8" y1="484.59" x2="302.8" y2="484.59" stroke="#a3002a" stroke-width="1.3" />
<circle cx="297.8" cy="483.56" r="1.6" fill="#a3002a"/>
<circle cx="294.6" cy="485.11" r="1.6" fill="#a3002a"/>
<circle cx="301" cy="485.11" r="1.6" fill="#a3002a"/>
<text x="88.8" y="531.3" font-size="7.6" text-anchor="middle" fill="#222" font-weight="normal" stroke="#222" stroke-width="0.28" >TRAF6</text>
<line x1="54.2" y1="570.65" x2="124.5" y2="570.65" stroke="#222" stroke-width="1.2" stroke-dasharray="1.1,1"/>
<line x1="54.2" y1="537" x2="54.2" y2="602.3" stroke="#222" stroke-width="1.2" />
<line x1="53.6" y1="601.7" x2="124.5" y2="601.7" stroke="#222" stroke-width="1.3" />
<line x1="51" y1="539.6" x2="54.2" y2="539.6" stroke="#222" stroke-width="1" />
<text x="47.8" y="542.3" font-size="7.4" text-anchor="end" fill="#222" font-weight="normal" stroke="#222" stroke-width="0.28" >2</text>
<line x1="51" y1="560.3" x2="54.2" y2="560.3" stroke="#222" stroke-width="1" />
<text x="47.8" y="563" font-size="7.4" text-anchor="end" fill="#222" font-weight="normal" stroke="#222" stroke-width="0.28" >0</text>
<line x1="51" y1="581" x2="54.2" y2="581" stroke="#222" stroke-width="1" />
<text x="47.8" y="583.7" font-size="7.4" text-anchor="end" fill="#222" font-weight="normal" stroke="#222" stroke-width="0.28" >-2</text>
<line x1="51" y1="601.7" x2="54.2" y2="601.7" stroke="#222" stroke-width="1" />
<text x="47.8" y="604.4" font-size="7.4" text-anchor="end" fill="#222" font-weight="normal" stroke="#222" stroke-width="0.28" >-4</text>
<polyline points="63.7,549.8 63.7,547.5 113.9,547.5 113.9,549.8" fill="none" stroke="#222" stroke-width="0.95" stroke-linejoin="round" />
<circle cx="85.8" cy="543.5" r="0.85" fill="#111"/>
<circle cx="88.8" cy="543.5" r="0.85" fill="#111"/>
<circle cx="91.8" cy="543.5" r="0.85" fill="#111"/>
<line x1="59.7" y1="560.3" x2="69.7" y2="560.3" stroke="#55265f" stroke-width="1.3" />
<circle cx="64.7" cy="559.78" r="1.6" fill="#55265f"/>
<circle cx="61.5" cy="560.3" r="1.6" fill="#55265f"/>
<circle cx="67.9" cy="560.82" r="1.6" fill="#55265f"/>
<line x1="75.7" y1="558.75" x2="85.7" y2="558.75" stroke="#2e4a7a" stroke-width="1.3" />
<circle cx="80.7" cy="557.71" r="1.6" fill="#2e4a7a"/>
<circle cx="77.5" cy="559.26" r="1.6" fill="#2e4a7a"/>
<circle cx="83.9" cy="559.26" r="1.6" fill="#2e4a7a"/>
<line x1="91.7" y1="561.85" x2="101.7" y2="561.85" stroke="#6aa73e" stroke-width="1.3" />
<circle cx="96.7" cy="561.33" r="1.6" fill="#6aa73e"/>
<circle cx="93.5" cy="561.85" r="1.6" fill="#6aa73e"/>
<circle cx="99.9" cy="562.37" r="1.6" fill="#6aa73e"/>
<line x1="107.6" y1="572.72" x2="117.6" y2="572.72" stroke="#a3002a" stroke-width="1.3" />
<circle cx="112.6" cy="571.68" r="1.6" fill="#a3002a"/>
<circle cx="109.4" cy="573.24" r="1.6" fill="#a3002a"/>
<circle cx="115.8" cy="573.24" r="1.6" fill="#a3002a"/>
<text x="181.4" y="531.3" font-size="7.6" text-anchor="middle" fill="#222" font-weight="normal" stroke="#222" stroke-width="0.28" >TRIB2</text>
<line x1="146.8" y1="570.65" x2="217.1" y2="570.65" stroke="#222" stroke-width="1.2" stroke-dasharray="1.1,1"/>
<line x1="146.8" y1="537" x2="146.8" y2="602.3" stroke="#222" stroke-width="1.2" />
<line x1="146.2" y1="601.7" x2="217.1" y2="601.7" stroke="#222" stroke-width="1.3" />
<line x1="143.6" y1="539.6" x2="146.8" y2="539.6" stroke="#222" stroke-width="1" />
<text x="140.4" y="542.3" font-size="7.4" text-anchor="end" fill="#222" font-weight="normal" stroke="#222" stroke-width="0.28" >2</text>
<line x1="143.6" y1="560.3" x2="146.8" y2="560.3" stroke="#222" stroke-width="1" />
<text x="140.4" y="563" font-size="7.4" text-anchor="end" fill="#222" font-weight="normal" stroke="#222" stroke-width="0.28" >0</text>
<line x1="143.6" y1="581" x2="146.8" y2="581" stroke="#222" stroke-width="1" />
<text x="140.4" y="583.7" font-size="7.4" text-anchor="end" fill="#222" font-weight="normal" stroke="#222" stroke-width="0.28" >-2</text>
<line x1="143.6" y1="601.7" x2="146.8" y2="601.7" stroke="#222" stroke-width="1" />
<text x="140.4" y="604.4" font-size="7.4" text-anchor="end" fill="#222" font-weight="normal" stroke="#222" stroke-width="0.28" >-4</text>
<polyline points="156.3,547.8 156.3,545.5 206.5,545.5 206.5,547.8" fill="none" stroke="#222" stroke-width="0.95" stroke-linejoin="round" />
<circle cx="178.4" cy="541.5" r="0.85" fill="#111"/>
<circle cx="181.4" cy="541.5" r="0.85" fill="#111"/>
<circle cx="184.4" cy="541.5" r="0.85" fill="#111"/>
<polyline points="156.3,556.8 156.3,554.5 173.1,554.5 173.1,556.8" fill="none" stroke="#222" stroke-width="0.95" stroke-linejoin="round" />
<circle cx="161.7" cy="550.5" r="0.85" fill="#111"/>
<circle cx="164.7" cy="550.5" r="0.85" fill="#111"/>
<circle cx="167.7" cy="550.5" r="0.85" fill="#111"/>
<polyline points="174.1,556.8 174.1,554.5 205.7,554.5 205.7,556.8" fill="none" stroke="#222" stroke-width="0.95" stroke-linejoin="round" />
<circle cx="186.9" cy="550.5" r="0.85" fill="#111"/>
<circle cx="189.9" cy="550.5" r="0.85" fill="#111"/>
<circle cx="192.9" cy="550.5" r="0.85" fill="#111"/>
<line x1="152.3" y1="560.3" x2="162.3" y2="560.3" stroke="#55265f" stroke-width="1.3" />
<circle cx="157.3" cy="559.26" r="1.6" fill="#55265f"/>
<circle cx="154.1" cy="560.82" r="1.6" fill="#55265f"/>
<circle cx="160.5" cy="560.82" r="1.6" fill="#55265f"/>
<line x1="168.3" y1="575.82" x2="178.3" y2="575.82" stroke="#2e4a7a" stroke-width="1.3" />
<circle cx="173.3" cy="575.31" r="1.6" fill="#2e4a7a"/>
<circle cx="170.1" cy="575.82" r="1.6" fill="#2e4a7a"/>
<circle cx="176.5" cy="576.34" r="1.6" fill="#2e4a7a"/>
<line x1="189.3" y1="563.4" x2="189.3" y2="567.03" stroke="#6aa73e" stroke-width="0.8" />
<line x1="186.9" y1="563.4" x2="191.7" y2="563.4" stroke="#6aa73e" stroke-width="0.8" />
<line x1="186.9" y1="567.03" x2="191.7" y2="567.03" stroke="#6aa73e" stroke-width="0.8" />
<line x1="184.3" y1="565.47" x2="194.3" y2="565.47" stroke="#6aa73e" stroke-width="1.3" />
<circle cx="189.3" cy="562.37" r="1.6" fill="#6aa73e"/>
<circle cx="186.1" cy="565.47" r="1.6" fill="#6aa73e"/>
<circle cx="192.5" cy="568.06" r="1.6" fill="#6aa73e"/>
<line x1="205.2" y1="587.21" x2="205.2" y2="592.38" stroke="#a3002a" stroke-width="0.8" />
<line x1="202.8" y1="587.21" x2="207.6" y2="587.21" stroke="#a3002a" stroke-width="0.8" />
<line x1="202.8" y1="592.38" x2="207.6" y2="592.38" stroke="#a3002a" stroke-width="0.8" />
<line x1="200.2" y1="589.28" x2="210.2" y2="589.28" stroke="#a3002a" stroke-width="1.3" />
<circle cx="205.2" cy="586.17" r="1.6" fill="#a3002a"/>
<circle cx="202" cy="588.25" r="1.6" fill="#a3002a"/>
<circle cx="208.4" cy="593.42" r="1.6" fill="#a3002a"/>
<text x="274" y="531.3" font-size="7.6" text-anchor="middle" fill="#222" font-weight="normal" stroke="#222" stroke-width="0.28" >TRIB3</text>
<line x1="239.4" y1="570.65" x2="309.7" y2="570.65" stroke="#222" stroke-width="1.2" stroke-dasharray="1.1,1"/>
<line x1="239.4" y1="537" x2="239.4" y2="602.3" stroke="#222" stroke-width="1.2" />
<line x1="238.8" y1="601.7" x2="309.7" y2="601.7" stroke="#222" stroke-width="1.3" />
<line x1="236.2" y1="539.6" x2="239.4" y2="539.6" stroke="#222" stroke-width="1" />
<text x="233" y="542.3" font-size="7.4" text-anchor="end" fill="#222" font-weight="normal" stroke="#222" stroke-width="0.28" >2</text>
<line x1="236.2" y1="560.3" x2="239.4" y2="560.3" stroke="#222" stroke-width="1" />
<text x="233" y="563" font-size="7.4" text-anchor="end" fill="#222" font-weight="normal" stroke="#222" stroke-width="0.28" >0</text>
<line x1="236.2" y1="581" x2="239.4" y2="581" stroke="#222" stroke-width="1" />
<text x="233" y="583.7" font-size="7.4" text-anchor="end" fill="#222" font-weight="normal" stroke="#222" stroke-width="0.28" >-2</text>
<line x1="236.2" y1="601.7" x2="239.4" y2="601.7" stroke="#222" stroke-width="1" />
<text x="233" y="604.4" font-size="7.4" text-anchor="end" fill="#222" font-weight="normal" stroke="#222" stroke-width="0.28" >-4</text>
<polyline points="248.9,547.8 248.9,545.5 299.1,545.5 299.1,547.8" fill="none" stroke="#222" stroke-width="0.95" stroke-linejoin="round" />
<circle cx="271" cy="541.5" r="0.85" fill="#111"/>
<circle cx="274" cy="541.5" r="0.85" fill="#111"/>
<circle cx="277" cy="541.5" r="0.85" fill="#111"/>
<polyline points="249.2,557.8 249.2,555.5 281.4,555.5 281.4,557.8" fill="none" stroke="#222" stroke-width="0.95" stroke-linejoin="round" />
<circle cx="262.3" cy="551.5" r="0.85" fill="#111"/>
<circle cx="265.3" cy="551.5" r="0.85" fill="#111"/>
<circle cx="268.3" cy="551.5" r="0.85" fill="#111"/>
<polyline points="282.2,557.8 282.2,555.5 299.3,555.5 299.3,557.8" fill="none" stroke="#222" stroke-width="0.95" stroke-linejoin="round" />
<circle cx="287.75" cy="551.5" r="0.85" fill="#111"/>
<circle cx="290.75" cy="551.5" r="0.85" fill="#111"/>
<circle cx="293.75" cy="551.5" r="0.85" fill="#111"/>
<line x1="249.9" y1="558.75" x2="249.9" y2="560.3" stroke="#55265f" stroke-width="0.8" />
<line x1="247.5" y1="558.75" x2="252.3" y2="558.75" stroke="#55265f" stroke-width="0.8" />
<line x1="247.5" y1="560.3" x2="252.3" y2="560.3" stroke="#55265f" stroke-width="0.8" />
<line x1="244.9" y1="560.3" x2="254.9" y2="560.3" stroke="#55265f" stroke-width="1.3" />
<circle cx="249.9" cy="557.71" r="1.6" fill="#55265f"/>
<circle cx="246.7" cy="560.3" r="1.6" fill="#55265f"/>
<circle cx="253.1" cy="561.33" r="1.6" fill="#55265f"/>
<line x1="265.9" y1="568.58" x2="265.9" y2="572.72" stroke="#2e4a7a" stroke-width="0.8" />
<line x1="263.5" y1="568.58" x2="268.3" y2="568.58" stroke="#2e4a7a" stroke-width="0.8" />
<line x1="263.5" y1="572.72" x2="268.3" y2="572.72" stroke="#2e4a7a" stroke-width="0.8" />
<line x1="260.9" y1="570.65" x2="270.9" y2="570.65" stroke="#2e4a7a" stroke-width="1.3" />
<circle cx="265.9" cy="567.54" r="1.6" fill="#2e4a7a"/>
<circle cx="262.7" cy="570.65" r="1.6" fill="#2e4a7a"/>
<circle cx="269.1" cy="573.75" r="1.6" fill="#2e4a7a"/>
<line x1="281.9" y1="571.68" x2="281.9" y2="574.79" stroke="#6aa73e" stroke-width="0.8" />
<line x1="279.5" y1="571.68" x2="284.3" y2="571.68" stroke="#6aa73e" stroke-width="0.8" />
<line x1="279.5" y1="574.79" x2="284.3" y2="574.79" stroke="#6aa73e" stroke-width="0.8" />
<line x1="276.9" y1="573.75" x2="286.9" y2="573.75" stroke="#6aa73e" stroke-width="1.3" />
<circle cx="281.9" cy="570.65" r="1.6" fill="#6aa73e"/>
<circle cx="278.7" cy="573.75" r="1.6" fill="#6aa73e"/>
<circle cx="285.1" cy="575.82" r="1.6" fill="#6aa73e"/>
<line x1="297.8" y1="587.73" x2="297.8" y2="594.97" stroke="#a3002a" stroke-width="0.8" />
<line x1="295.4" y1="587.73" x2="300.2" y2="587.73" stroke="#a3002a" stroke-width="0.8" />
<line x1="295.4" y1="594.97" x2="300.2" y2="594.97" stroke="#a3002a" stroke-width="0.8" />
<line x1="292.8" y1="590.31" x2="302.8" y2="590.31" stroke="#a3002a" stroke-width="1.3" />
<circle cx="297.8" cy="586.69" r="1.6" fill="#a3002a"/>
<circle cx="294.6" cy="589.8" r="1.6" fill="#a3002a"/>
<circle cx="301" cy="596.01" r="1.6" fill="#a3002a"/>
<text transform="translate(36,479) rotate(-90)" x="0" y="0" font-size="10" text-anchor="middle" fill="#222" font-weight="normal" stroke="#222" stroke-width="0.4" textLength="21.2" lengthAdjust="spacingAndGlyphs">log2FC</text>
<circle cx="97.3" cy="619.4" r="1.6" fill="#55265f"/>
<text x="102.1" y="622.03" font-size="7.3" text-anchor="start" fill="#222" font-weight="normal" stroke="#222" stroke-width="0.05" textLength="23.7" lengthAdjust="spacingAndGlyphs" >Control</text>
<circle cx="136.7" cy="619.4" r="1.6" fill="#2e4a7a"/>
<text x="140.5" y="622.03" font-size="7.3" text-anchor="start" fill="#222" font-weight="normal" stroke="#222" stroke-width="0.05" textLength="13.5" lengthAdjust="spacingAndGlyphs" >JQ1</text>
<circle cx="165.6" cy="619.4" r="1.6" fill="#6aa73e"/>
<text x="170" y="622.03" font-size="7.3" text-anchor="start" fill="#222" font-weight="normal" stroke="#222" stroke-width="0.05" textLength="27.9" lengthAdjust="spacingAndGlyphs" >CDKI-73</text>
<circle cx="209.6" cy="619.4" r="1.6" fill="#a3002a"/>
<text x="213.8" y="622.03" font-size="7.3" text-anchor="start" fill="#222" font-weight="normal" stroke="#222" stroke-width="0.05" textLength="40.8" lengthAdjust="spacingAndGlyphs" >Combination</text>
<text x="325.4" y="338" font-size="11.5" text-anchor="start" fill="#000" font-weight="bold" stroke="#000" stroke-width="0.2" >H</text>
<text x="427.4" y="363.6" font-size="8.1" text-anchor="middle" fill="#111" font-weight="normal" stroke="#111" stroke-width="0.15" >Enrichment Plot :K562</text>
<line x1="377.55" y1="368.5" x2="377.55" y2="426.6" stroke="#ececec" stroke-width="0.6" />
<line x1="395.6" y1="368.5" x2="395.6" y2="426.6" stroke="#ececec" stroke-width="0.6" />
<line x1="413.65" y1="368.5" x2="413.65" y2="426.6" stroke="#ececec" stroke-width="0.6" />
<line x1="431.7" y1="368.5" x2="431.7" y2="426.6" stroke="#ececec" stroke-width="0.6" />
<line x1="449.75" y1="368.5" x2="449.75" y2="426.6" stroke="#ececec" stroke-width="0.6" />
<line x1="467.8" y1="368.5" x2="467.8" y2="426.6" stroke="#ececec" stroke-width="0.6" />
<line x1="485.85" y1="368.5" x2="485.85" y2="426.6" stroke="#ececec" stroke-width="0.6" />
<line x1="359.5" y1="389.9" x2="495.5" y2="389.9" stroke="#ececec" stroke-width="0.6" />
<line x1="359.5" y1="400.4" x2="495.5" y2="400.4" stroke="#ececec" stroke-width="0.6" />
<line x1="359.5" y1="410.9" x2="495.5" y2="410.9" stroke="#ececec" stroke-width="0.6" />
<line x1="359.5" y1="421.4" x2="495.5" y2="421.4" stroke="#ececec" stroke-width="0.6" />
<line x1="359.5" y1="379.4" x2="495.5" y2="379.4" stroke="#c8c8c8" stroke-width="0.8" />
<line x1="359.5" y1="426.7" x2="495.5" y2="426.7" stroke="#dddddd" stroke-width="0.6" />
<line x1="362" y1="427.2" x2="362" y2="445.6" stroke="#5a5a5a" stroke-width="0.6" />
<line x1="366.2" y1="427.2" x2="366.2" y2="445.6" stroke="#5a5a5a" stroke-width="0.6" />
<line x1="367.1" y1="427.2" x2="367.1" y2="445.6" stroke="#5a5a5a" stroke-width="0.6" />
<line x1="369.3" y1="427.2" x2="369.3" y2="445.6" stroke="#5a5a5a" stroke-width="0.6" />
<line x1="371.5" y1="427.2" x2="371.5" y2="445.6" stroke="#5a5a5a" stroke-width="0.6" />
<line x1="372.4" y1="427.2" x2="372.4" y2="445.6" stroke="#5a5a5a" stroke-width="0.6" />
<line x1="372.9" y1="427.2" x2="372.9" y2="445.6" stroke="#5a5a5a" stroke-width="0.6" />
<line x1="379.5" y1="427.2" x2="379.5" y2="445.6" stroke="#5a5a5a" stroke-width="0.6" />
<line x1="381" y1="427.2" x2="381" y2="445.6" stroke="#5a5a5a" stroke-width="0.6" />
<line x1="382.5" y1="427.2" x2="382.5" y2="445.6" stroke="#5a5a5a" stroke-width="0.6" />
<line x1="383.5" y1="427.2" x2="383.5" y2="445.6" stroke="#5a5a5a" stroke-width="0.6" />
<line x1="384.5" y1="427.2" x2="384.5" y2="445.6" stroke="#5a5a5a" stroke-width="0.6" />
<line x1="386" y1="427.2" x2="386" y2="445.6" stroke="#5a5a5a" stroke-width="0.6" />
<line x1="387.6" y1="427.2" x2="387.6" y2="445.6" stroke="#5a5a5a" stroke-width="0.6" />
<line x1="389.3" y1="427.2" x2="389.3" y2="445.6" stroke="#5a5a5a" stroke-width="0.6" />
<line x1="400.5" y1="427.2" x2="400.5" y2="445.6" stroke="#5a5a5a" stroke-width="0.6" />
<line x1="401.5" y1="427.2" x2="401.5" y2="445.6" stroke="#5a5a5a" stroke-width="0.6" />
<line x1="402.5" y1="427.2" x2="402.5" y2="445.6" stroke="#5a5a5a" stroke-width="0.6" />
<line x1="404" y1="427.2" x2="404" y2="445.6" stroke="#5a5a5a" stroke-width="0.6" />
<line x1="405.5" y1="427.2" x2="405.5" y2="445.6" stroke="#5a5a5a" stroke-width="0.6" />
<line x1="406.2" y1="427.2" x2="406.2" y2="445.6" stroke="#5a5a5a" stroke-width="0.6" />
<line x1="407.9" y1="427.2" x2="407.9" y2="445.6" stroke="#5a5a5a" stroke-width="0.6" />
<line x1="410.3" y1="427.2" x2="410.3" y2="445.6" stroke="#5a5a5a" stroke-width="0.6" />
<line x1="412.2" y1="427.2" x2="412.2" y2="445.6" stroke="#5a5a5a" stroke-width="0.6" />
<line x1="414.6" y1="427.2" x2="414.6" y2="445.6" stroke="#5a5a5a" stroke-width="0.6" />
<line x1="425.7" y1="427.2" x2="425.7" y2="445.6" stroke="#5a5a5a" stroke-width="0.6" />
<line x1="427.1" y1="427.2" x2="427.1" y2="445.6" stroke="#5a5a5a" stroke-width="0.6" />
<line x1="436.7" y1="427.2" x2="436.7" y2="445.6" stroke="#5a5a5a" stroke-width="0.6" />
<line x1="441.5" y1="427.2" x2="441.5" y2="445.6" stroke="#5a5a5a" stroke-width="0.6" />
<line x1="442.5" y1="427.2" x2="442.5" y2="445.6" stroke="#5a5a5a" stroke-width="0.6" />
<line x1="443.5" y1="427.2" x2="443.5" y2="445.6" stroke="#5a5a5a" stroke-width="0.6" />
<line x1="453.8" y1="427.2" x2="453.8" y2="445.6" stroke="#5a5a5a" stroke-width="0.6" />
<line x1="460.4" y1="427.2" x2="460.4" y2="445.6" stroke="#5a5a5a" stroke-width="0.6" />
<line x1="465.4" y1="427.2" x2="465.4" y2="445.6" stroke="#5a5a5a" stroke-width="0.6" />
<line x1="467.3" y1="427.2" x2="467.3" y2="445.6" stroke="#5a5a5a" stroke-width="0.6" />
<line x1="471.2" y1="427.2" x2="471.2" y2="445.6" stroke="#5a5a5a" stroke-width="0.6" />
<line x1="473.6" y1="427.2" x2="473.6" y2="445.6" stroke="#5a5a5a" stroke-width="0.6" />
<line x1="475" y1="427.2" x2="475" y2="445.6" stroke="#5a5a5a" stroke-width="0.6" />
<line x1="479.3" y1="427.2" x2="479.3" y2="445.6" stroke="#5a5a5a" stroke-width="0.6" />
<line x1="483.7" y1="427.2" x2="483.7" y2="445.6" stroke="#5a5a5a" stroke-width="0.6" />
<line x1="485.6" y1="427.2" x2="485.6" y2="445.6" stroke="#5a5a5a" stroke-width="0.6" />
<line x1="486.5" y1="427.2" x2="486.5" y2="445.6" stroke="#5a5a5a" stroke-width="0.6" />
<line x1="489" y1="427.2" x2="489" y2="445.6" stroke="#5a5a5a" stroke-width="0.6" />
<rect x="359.4" y="445.6" width="19.2" height="4.5" fill="#f4424c" />
<rect x="378.6" y="445.6" width="9.1" height="4.5" fill="#f46a7c" />
<rect x="387.7" y="445.6" width="13.9" height="4.5" fill="#f47c7e" />
<rect x="401.6" y="445.6" width="18.4" height="4.5" fill="#f6b4e4" />
<rect x="420" y="445.6" width="16" height="4.5" fill="#dcdcfa" />
<rect x="436" y="445.6" width="14.5" height="4.5" fill="#c6c6f6" />
<rect x="450.5" y="445.6" width="11" height="4.5" fill="#8484f2" />
<rect x="461.5" y="445.6" width="19.3" height="4.5" fill="#5454e2" />
<rect x="480.8" y="445.6" width="8.4" height="4.5" fill="#1414c6" />
<polygon points="359.5,477.2 359.5,468.7 360.8,471.2 362.1,472.6 364.04,473.6 367.29,474.2 375.08,474.9 391.95,475.9 419.86,477.2 450.36,478.1 469.83,478.7 480.21,479.2 484.11,480.2 486.7,481.7 488.65,484.2 489.3,485.9 489.3,477.2" fill="#c8c8c8"/>
<line x1="359.5" y1="477.2" x2="489.3" y2="477.2" stroke="#bbb" stroke-width="0.6" />
<text x="361" y="457.2" font-size="7" text-anchor="start" fill="#d4486a" font-weight="normal" stroke="#d4486a" stroke-width="0.1" textLength="34.8" lengthAdjust="spacingAndGlyphs" >Combination</text>
<text x="361" y="463.8" font-size="7" text-anchor="start" fill="#d4486a" font-weight="normal" stroke="#d4486a" stroke-width="0.1" textLength="55" lengthAdjust="spacingAndGlyphs" >positively correlated</text>
<text x="494.8" y="457.4" font-size="7" text-anchor="end" fill="#8058a0" font-weight="normal" stroke="#8058a0" stroke-width="0.1" textLength="35.2" lengthAdjust="spacingAndGlyphs" >Combination</text>
<text x="494.8" y="464" font-size="7" text-anchor="end" fill="#8058a0" font-weight="normal" stroke="#8058a0" stroke-width="0.1" textLength="57.2" lengthAdjust="spacingAndGlyphs" >negatively correlated</text>
<text x="453.4" y="473.5" font-size="7" text-anchor="end" fill="#222" font-weight="normal" stroke="#222" stroke-width="0.28" textLength="60" lengthAdjust="spacingAndGlyphs" >Zero crosses at 6703</text>
<polyline points="359.5,379.4 362.1,374.99 363.1,378.45 365.6,375.51 366.6,377.51 369.1,374.46 370.1,376.04 373.6,371.21 376.65,375.94 379.36,375.2 382.06,375.41 384.77,374.67 387.48,375.2 390.3,374.88 392.89,377.3 395.6,379.4 400.1,382.34 405.1,384.02 410.1,386.96 420.1,393.36 430.1,400.92 440.5,409.22 442.98,408.27 445.69,408.8 449.75,411.95 454.89,416.25 458.77,418.77 462.38,420.35 465.5,422.66 466.9,421.4 468.25,422.97 469.61,421.4 470.96,422.66 472.31,421.19 473.67,422.45 475.02,420.56 476.37,421.92 477.73,419.82 479.08,420.88 480.89,417.41 482.42,419.3 483.8,415.41 485.7,405.75 486.75,400.4 487.6,391.26 488.56,384.65 489.5,379.4" fill="none" stroke="#22ee22" stroke-width="1.3" stroke-linejoin="round" />
<text x="443.8" y="390.2" font-size="7" text-anchor="start" fill="#111" font-weight="normal" stroke="#111" stroke-width="0.28" textLength="30.8" lengthAdjust="spacingAndGlyphs" >NES: -1.51</text>
<text x="444.8" y="399.2" font-size="7" text-anchor="start" fill="#111" font-weight="normal" stroke="#111" stroke-width="0.28" textLength="32.2" lengthAdjust="spacingAndGlyphs" >FDR: 0.041</text>
<rect x="359.5" y="368.5" width="136" height="120" fill="none" stroke="#111" stroke-width="1"/>
<line x1="356.1" y1="379.4" x2="359.5" y2="379.4" stroke="#111" stroke-width="0.9" />
<text x="353" y="382" font-size="7.4" text-anchor="end" fill="#222" font-weight="normal" stroke="#222" stroke-width="0.28" textLength="11" lengthAdjust="spacingAndGlyphs" >0.0</text>
<line x1="356.1" y1="389.9" x2="359.5" y2="389.9" stroke="#111" stroke-width="0.9" />
<text x="353" y="392.5" font-size="7.4" text-anchor="end" fill="#222" font-weight="normal" stroke="#222" stroke-width="0.28" textLength="13.6" lengthAdjust="spacingAndGlyphs" >-0.1</text>
<line x1="356.1" y1="400.4" x2="359.5" y2="400.4" stroke="#111" stroke-width="0.9" />
<text x="353" y="403" font-size="7.4" text-anchor="end" fill="#222" font-weight="normal" stroke="#222" stroke-width="0.28" textLength="13.6" lengthAdjust="spacingAndGlyphs" >-0.2</text>
<line x1="356.1" y1="410.9" x2="359.5" y2="410.9" stroke="#111" stroke-width="0.9" />
<text x="353" y="413.5" font-size="7.4" text-anchor="end" fill="#222" font-weight="normal" stroke="#222" stroke-width="0.28" textLength="13.6" lengthAdjust="spacingAndGlyphs" >-0.3</text>
<line x1="356.1" y1="421.4" x2="359.5" y2="421.4" stroke="#111" stroke-width="0.9" />
<text x="353" y="424" font-size="7.4" text-anchor="end" fill="#222" font-weight="normal" stroke="#222" stroke-width="0.28" textLength="13.6" lengthAdjust="spacingAndGlyphs" >-0.4</text>
<line x1="359.5" y1="488.5" x2="359.5" y2="491.3" stroke="#111" stroke-width="0.9" />
<text x="359.5" y="499.8" font-size="5.4" text-anchor="middle" fill="#222" font-weight="normal" stroke="#222" stroke-width="0.28" >0</text>
<line x1="377.55" y1="488.5" x2="377.55" y2="491.3" stroke="#111" stroke-width="0.9" />
<text x="378.15" y="499.8" font-size="5.4" text-anchor="middle" fill="#222" font-weight="normal" stroke="#222" stroke-width="0.28" >2,000</text>
<line x1="395.6" y1="488.5" x2="395.6" y2="491.3" stroke="#111" stroke-width="0.9" />
<text x="396.2" y="499.8" font-size="5.4" text-anchor="middle" fill="#222" font-weight="normal" stroke="#222" stroke-width="0.28" >4,000</text>
<line x1="413.65" y1="488.5" x2="413.65" y2="491.3" stroke="#111" stroke-width="0.9" />
<text x="414.25" y="499.8" font-size="5.4" text-anchor="middle" fill="#222" font-weight="normal" stroke="#222" stroke-width="0.28" >6,000</text>
<line x1="431.7" y1="488.5" x2="431.7" y2="491.3" stroke="#111" stroke-width="0.9" />
<text x="432.3" y="499.8" font-size="5.4" text-anchor="middle" fill="#222" font-weight="normal" stroke="#222" stroke-width="0.28" >8,000</text>
<line x1="449.75" y1="488.5" x2="449.75" y2="491.3" stroke="#111" stroke-width="0.9" />
<text x="450.35" y="499.8" font-size="5.4" text-anchor="middle" fill="#222" font-weight="normal" stroke="#222" stroke-width="0.28" >10,000</text>
<line x1="467.8" y1="488.5" x2="467.8" y2="491.3" stroke="#111" stroke-width="0.9" />
<text x="468.4" y="499.8" font-size="5.4" text-anchor="middle" fill="#222" font-weight="normal" stroke="#222" stroke-width="0.28" >12,000</text>
<line x1="485.85" y1="488.5" x2="485.85" y2="491.3" stroke="#111" stroke-width="0.9" />
<text x="486.45" y="499.8" font-size="5.4" text-anchor="middle" fill="#222" font-weight="normal" stroke="#222" stroke-width="0.28" >14,000</text>
<text x="427.7" y="508.7" font-size="5.6" text-anchor="middle" fill="#333" font-weight="normal" stroke="#333" stroke-width="0.08" textLength="55.5" lengthAdjust="spacingAndGlyphs" >Rank in ordered dataset</text>
<text transform="translate(333.2,401.9) rotate(-90)" x="0" y="0" font-size="8.4" text-anchor="middle" fill="#222" font-weight="normal" stroke="#222" stroke-width="0.35" textLength="67.3" lengthAdjust="spacingAndGlyphs">Enrichment score (ES)</text>
<text transform="translate(343.4,467.9) rotate(-90)" x="0" y="0" font-size="8.6" text-anchor="middle" fill="#222" font-weight="normal" stroke="#222" stroke-width="0.4" textLength="54.7" lengthAdjust="spacingAndGlyphs">Ranked list metric</text>
<text transform="translate(352.9,468.4) rotate(-90)" x="0" y="0" font-size="8.6" text-anchor="middle" fill="#222" font-weight="normal" stroke="#222" stroke-width="0.4" textLength="38" lengthAdjust="spacingAndGlyphs">(pre-ranked)</text>
<line x1="371.2" y1="514.6" x2="376.3" y2="514.6" stroke="#22ee22" stroke-width="1.1" />
<text x="379.5" y="516.2" font-size="5" text-anchor="start" fill="#444" font-weight="normal" textLength="33" lengthAdjust="spacingAndGlyphs" >Enrichment profile</text>
<line x1="416.2" y1="514.6" x2="421.3" y2="514.6" stroke="#111" stroke-width="1.1" />
<text x="424.5" y="516.2" font-size="5" text-anchor="start" fill="#444" font-weight="normal" textLength="7.5" lengthAdjust="spacingAndGlyphs" >Hits</text>
<line x1="436.2" y1="514.6" x2="440.5" y2="514.6" stroke="#bbb" stroke-width="1.1" />
<text x="443.8" y="516.2" font-size="5" text-anchor="start" fill="#444" font-weight="normal" textLength="40.5" lengthAdjust="spacingAndGlyphs" >Ranking metric scores</text>
</svg></body></html>
